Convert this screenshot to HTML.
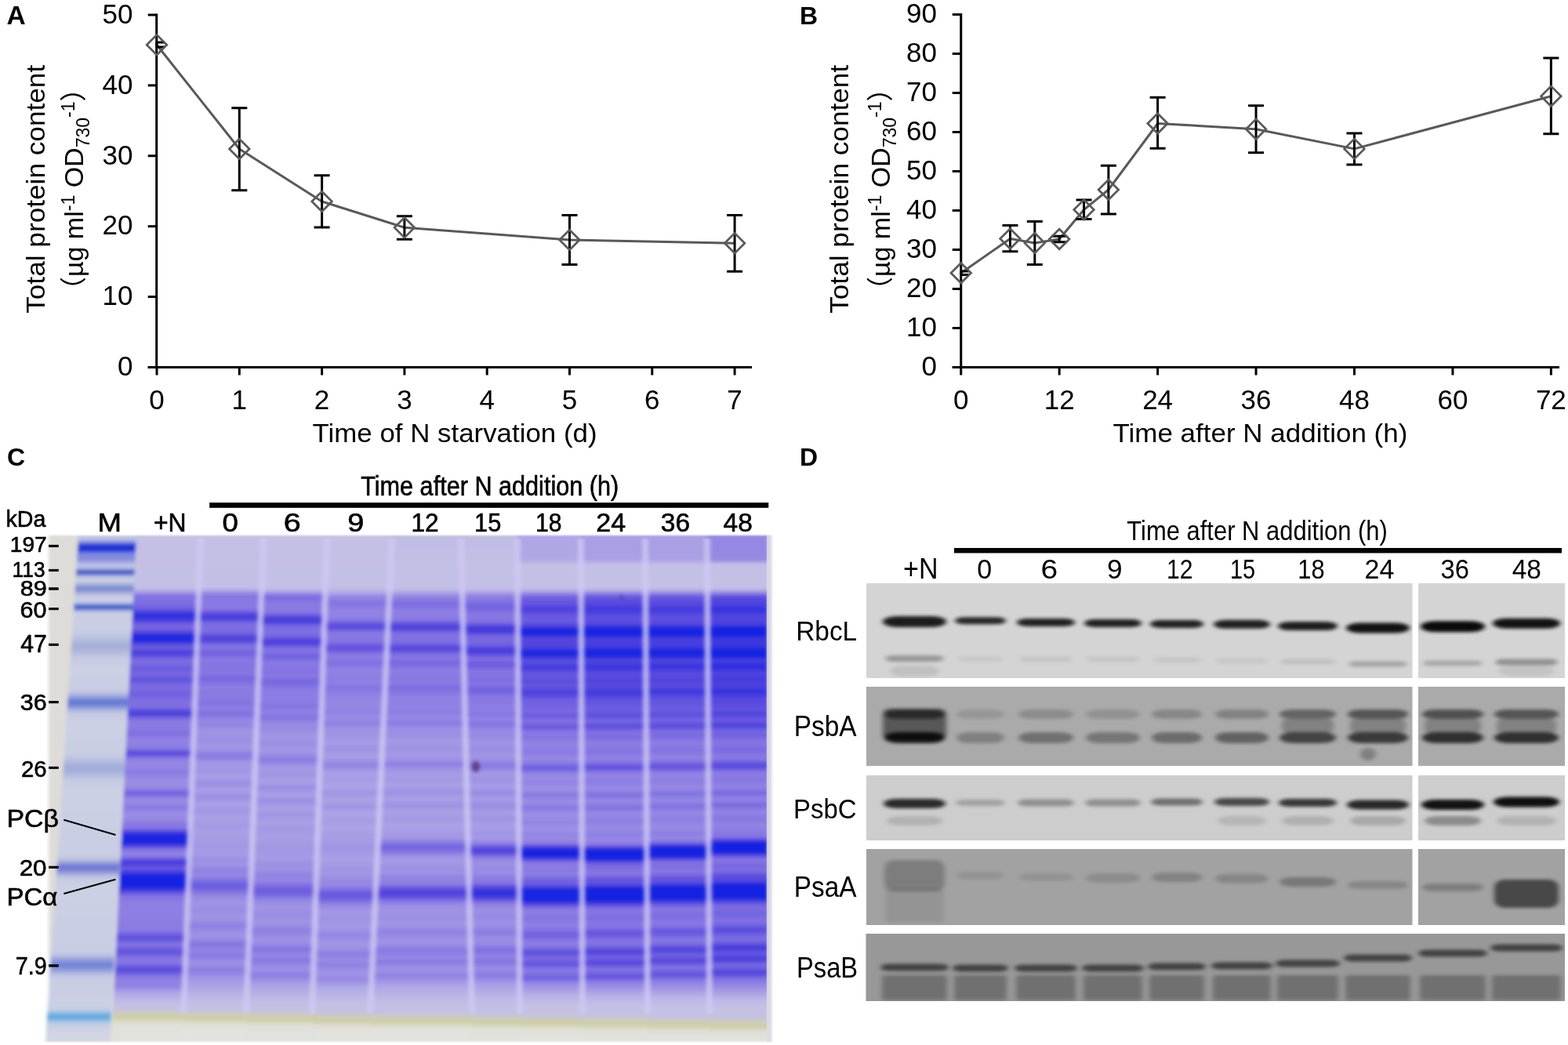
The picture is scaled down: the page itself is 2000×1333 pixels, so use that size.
<!DOCTYPE html>
<html><head><meta charset="utf-8"><title>Figure</title>
<style>html,body{margin:0;padding:0;background:#fff;overflow:hidden;}svg{display:block;}</style>
</head><body>
<svg width="2000" height="1333" viewBox="0 0 2000 1333" font-family="'Liberation Sans', Arial, 'Noto Sans CJK SC', sans-serif" fill="#000">
<rect width="2000" height="1333" fill="#fff"/>
<defs><filter id="gblur" x="-2%" y="-2%" width="104%" height="104%"><feGaussianBlur stdDeviation="2.0 1.3"/></filter><filter id="sblur" x="-50%" y="-5%" width="200%" height="110%"><feGaussianBlur stdDeviation="2.2 1"/></filter><filter id="dblur" x="-50%" y="-50%" width="200%" height="200%"><feGaussianBlur stdDeviation="2"/></filter><linearGradient id="lg0" gradientUnits="userSpaceOnUse" x1="0" y1="683" x2="0" y2="1329"><stop offset="0.0000" stop-color="#c4c1e5"/><stop offset="0.1022" stop-color="#c3c0e5"/><stop offset="0.1084" stop-color="#b4aee6"/><stop offset="0.1176" stop-color="#8c7de3"/><stop offset="0.1207" stop-color="#8373e2"/><stop offset="0.1393" stop-color="#796ae1"/><stop offset="0.1455" stop-color="#695ae0"/><stop offset="0.1548" stop-color="#3b37df"/><stop offset="0.1579" stop-color="#3232e0"/><stop offset="0.1610" stop-color="#3232e0"/><stop offset="0.1672" stop-color="#4a40de"/><stop offset="0.1734" stop-color="#695ae0"/><stop offset="0.1796" stop-color="#7767e1"/><stop offset="0.1858" stop-color="#6f60e0"/><stop offset="0.1920" stop-color="#5043de"/><stop offset="0.1981" stop-color="#282ce0"/><stop offset="0.2012" stop-color="#2229e1"/><stop offset="0.2043" stop-color="#2229e1"/><stop offset="0.2074" stop-color="#282ce0"/><stop offset="0.2167" stop-color="#6052df"/><stop offset="0.2198" stop-color="#695be0"/><stop offset="0.2229" stop-color="#6859e0"/><stop offset="0.2291" stop-color="#5345de"/><stop offset="0.2322" stop-color="#4e43de"/><stop offset="0.2353" stop-color="#5446de"/><stop offset="0.2446" stop-color="#7868e1"/><stop offset="0.2508" stop-color="#7c6de1"/><stop offset="0.2632" stop-color="#6b5ce0"/><stop offset="0.2724" stop-color="#7868e1"/><stop offset="0.2786" stop-color="#6f60e0"/><stop offset="0.2848" stop-color="#6153df"/><stop offset="0.2910" stop-color="#6f60e0"/><stop offset="0.2972" stop-color="#7c6ce1"/><stop offset="0.3065" stop-color="#7667e1"/><stop offset="0.3127" stop-color="#6f60e0"/><stop offset="0.3282" stop-color="#8070e2"/><stop offset="0.3375" stop-color="#7e6ee1"/><stop offset="0.3406" stop-color="#7767e1"/><stop offset="0.3467" stop-color="#5a4cde"/><stop offset="0.3498" stop-color="#4f43de"/><stop offset="0.3529" stop-color="#5044de"/><stop offset="0.3560" stop-color="#5d4fdf"/><stop offset="0.3622" stop-color="#7e6ee2"/><stop offset="0.3684" stop-color="#897ae2"/><stop offset="0.3808" stop-color="#8a7be2"/><stop offset="0.3901" stop-color="#7f6fe2"/><stop offset="0.4025" stop-color="#8f80e3"/><stop offset="0.4149" stop-color="#8f81e3"/><stop offset="0.4211" stop-color="#8474e2"/><stop offset="0.4272" stop-color="#6556df"/><stop offset="0.4303" stop-color="#5e50df"/><stop offset="0.4334" stop-color="#6657df"/><stop offset="0.4396" stop-color="#8677e2"/><stop offset="0.4458" stop-color="#9385e3"/><stop offset="0.4582" stop-color="#9386e3"/><stop offset="0.4675" stop-color="#8a7be2"/><stop offset="0.4830" stop-color="#9a8de4"/><stop offset="0.4954" stop-color="#988be3"/><stop offset="0.5015" stop-color="#8b7ce3"/><stop offset="0.5077" stop-color="#7566e1"/><stop offset="0.5108" stop-color="#7566e1"/><stop offset="0.5201" stop-color="#9486e3"/><stop offset="0.5263" stop-color="#988be3"/><stop offset="0.5356" stop-color="#8b7ce3"/><stop offset="0.5418" stop-color="#9081e3"/><stop offset="0.5511" stop-color="#9b8ee4"/><stop offset="0.5604" stop-color="#9688e3"/><stop offset="0.5697" stop-color="#897ae2"/><stop offset="0.5759" stop-color="#8676e2"/><stop offset="0.5789" stop-color="#7d6de1"/><stop offset="0.5851" stop-color="#5446de"/><stop offset="0.5913" stop-color="#272be0"/><stop offset="0.5975" stop-color="#1825e2"/><stop offset="0.6037" stop-color="#1d27e1"/><stop offset="0.6068" stop-color="#262be0"/><stop offset="0.6130" stop-color="#5245de"/><stop offset="0.6192" stop-color="#7c6ce1"/><stop offset="0.6223" stop-color="#8878e2"/><stop offset="0.6285" stop-color="#8f81e3"/><stop offset="0.6316" stop-color="#8d7ee3"/><stop offset="0.6347" stop-color="#8474e2"/><stop offset="0.6409" stop-color="#5c4edf"/><stop offset="0.6440" stop-color="#4d42de"/><stop offset="0.6471" stop-color="#4a40de"/><stop offset="0.6563" stop-color="#6355df"/><stop offset="0.6594" stop-color="#6052df"/><stop offset="0.6656" stop-color="#423bdf"/><stop offset="0.6687" stop-color="#2c2ee0"/><stop offset="0.6749" stop-color="#1624e2"/><stop offset="0.6904" stop-color="#1624e2"/><stop offset="0.6966" stop-color="#2a2de0"/><stop offset="0.7028" stop-color="#5446de"/><stop offset="0.7090" stop-color="#7666e1"/><stop offset="0.7152" stop-color="#8777e2"/><stop offset="0.7307" stop-color="#8e80e3"/><stop offset="0.7771" stop-color="#8b7be2"/><stop offset="0.7833" stop-color="#8171e2"/><stop offset="0.7926" stop-color="#6051df"/><stop offset="0.7957" stop-color="#6051df"/><stop offset="0.8050" stop-color="#7e6ee1"/><stop offset="0.8080" stop-color="#8272e2"/><stop offset="0.8142" stop-color="#7667e1"/><stop offset="0.8204" stop-color="#6456df"/><stop offset="0.8235" stop-color="#6455df"/><stop offset="0.8359" stop-color="#8676e2"/><stop offset="0.8421" stop-color="#8777e2"/><stop offset="0.8483" stop-color="#7969e1"/><stop offset="0.8545" stop-color="#6152df"/><stop offset="0.8576" stop-color="#5c4edf"/><stop offset="0.8607" stop-color="#6052df"/><stop offset="0.8700" stop-color="#8474e2"/><stop offset="0.8793" stop-color="#9082e3"/><stop offset="0.8885" stop-color="#8f81e3"/><stop offset="0.8947" stop-color="#9a8ee4"/><stop offset="0.9040" stop-color="#b0a8e5"/><stop offset="0.9226" stop-color="#c1bee5"/><stop offset="0.9350" stop-color="#c5c2df"/><stop offset="0.9412" stop-color="#cbc9cb"/><stop offset="0.9474" stop-color="#ceceac"/><stop offset="0.9505" stop-color="#cecea6"/><stop offset="0.9536" stop-color="#d0d0ab"/><stop offset="0.9628" stop-color="#deded2"/><stop offset="0.9690" stop-color="#e1e1dc"/><stop offset="1.0000" stop-color="#e2e2de"/></linearGradient><linearGradient id="lg1" gradientUnits="userSpaceOnUse" x1="0" y1="683" x2="0" y2="1329"><stop offset="0.0000" stop-color="#c4c1e5"/><stop offset="0.1022" stop-color="#c2bee5"/><stop offset="0.1084" stop-color="#b1a9e6"/><stop offset="0.1146" stop-color="#9587e3"/><stop offset="0.1207" stop-color="#8777e2"/><stop offset="0.1393" stop-color="#8a7be2"/><stop offset="0.1455" stop-color="#8474e2"/><stop offset="0.1517" stop-color="#6b5ce0"/><stop offset="0.1548" stop-color="#5a4cdf"/><stop offset="0.1579" stop-color="#4d42de"/><stop offset="0.1610" stop-color="#483fdf"/><stop offset="0.1641" stop-color="#4d42de"/><stop offset="0.1734" stop-color="#7768e1"/><stop offset="0.1796" stop-color="#7e6ee2"/><stop offset="0.1889" stop-color="#7c6ce1"/><stop offset="0.1950" stop-color="#6b5ce0"/><stop offset="0.2012" stop-color="#5245de"/><stop offset="0.2043" stop-color="#4f43de"/><stop offset="0.2074" stop-color="#5547de"/><stop offset="0.2167" stop-color="#7d6de1"/><stop offset="0.2198" stop-color="#8373e2"/><stop offset="0.2260" stop-color="#7c6ce1"/><stop offset="0.2322" stop-color="#7162e0"/><stop offset="0.2384" stop-color="#7c6ce1"/><stop offset="0.2446" stop-color="#8878e2"/><stop offset="0.2539" stop-color="#8676e2"/><stop offset="0.2632" stop-color="#8475e2"/><stop offset="0.2724" stop-color="#8777e2"/><stop offset="0.2817" stop-color="#7768e1"/><stop offset="0.2879" stop-color="#7d6de1"/><stop offset="0.2972" stop-color="#8a7be2"/><stop offset="0.3220" stop-color="#897ae2"/><stop offset="0.3313" stop-color="#8272e2"/><stop offset="0.3406" stop-color="#8c7ee3"/><stop offset="0.3529" stop-color="#8171e2"/><stop offset="0.3653" stop-color="#9587e3"/><stop offset="0.3746" stop-color="#9486e3"/><stop offset="0.3870" stop-color="#a094e4"/><stop offset="0.4056" stop-color="#9c90e4"/><stop offset="0.4180" stop-color="#a297e4"/><stop offset="0.4272" stop-color="#9689e3"/><stop offset="0.4334" stop-color="#8b7ce2"/><stop offset="0.4396" stop-color="#8f81e3"/><stop offset="0.4489" stop-color="#a297e4"/><stop offset="0.4582" stop-color="#a297e4"/><stop offset="0.4675" stop-color="#a196e4"/><stop offset="0.4768" stop-color="#a89ee5"/><stop offset="0.4892" stop-color="#9b8fe4"/><stop offset="0.4954" stop-color="#a094e4"/><stop offset="0.5015" stop-color="#a89ee5"/><stop offset="0.5077" stop-color="#a59be4"/><stop offset="0.5139" stop-color="#9c8fe4"/><stop offset="0.5201" stop-color="#9f92e4"/><stop offset="0.5294" stop-color="#a9a0e5"/><stop offset="0.5449" stop-color="#a297e4"/><stop offset="0.5573" stop-color="#aaa0e5"/><stop offset="0.5728" stop-color="#a499e4"/><stop offset="0.5882" stop-color="#a9a0e5"/><stop offset="0.6130" stop-color="#a398e4"/><stop offset="0.6285" stop-color="#a69be5"/><stop offset="0.6409" stop-color="#9c90e4"/><stop offset="0.6502" stop-color="#9f93e4"/><stop offset="0.6594" stop-color="#9284e3"/><stop offset="0.6718" stop-color="#9486e3"/><stop offset="0.6811" stop-color="#8171e2"/><stop offset="0.6904" stop-color="#6c5de0"/><stop offset="0.6966" stop-color="#7061e0"/><stop offset="0.7121" stop-color="#9588e3"/><stop offset="0.7245" stop-color="#a094e4"/><stop offset="0.7399" stop-color="#9a8de4"/><stop offset="0.7523" stop-color="#a095e4"/><stop offset="0.7616" stop-color="#9a8de4"/><stop offset="0.7709" stop-color="#8e80e3"/><stop offset="0.7864" stop-color="#9e92e4"/><stop offset="0.7957" stop-color="#9a8de4"/><stop offset="0.8050" stop-color="#8778e2"/><stop offset="0.8111" stop-color="#8878e2"/><stop offset="0.8173" stop-color="#9284e3"/><stop offset="0.8235" stop-color="#9081e3"/><stop offset="0.8297" stop-color="#8878e2"/><stop offset="0.8421" stop-color="#9b8ee4"/><stop offset="0.8483" stop-color="#9a8de4"/><stop offset="0.8576" stop-color="#8d7ee3"/><stop offset="0.8638" stop-color="#9284e3"/><stop offset="0.8762" stop-color="#a297e4"/><stop offset="0.9195" stop-color="#c1bde5"/><stop offset="0.9350" stop-color="#c4c1e2"/><stop offset="0.9412" stop-color="#c8c6d3"/><stop offset="0.9505" stop-color="#cecea9"/><stop offset="0.9536" stop-color="#cecea7"/><stop offset="0.9598" stop-color="#d7d7be"/><stop offset="0.9659" stop-color="#dfdfd6"/><stop offset="0.9752" stop-color="#e2e2de"/><stop offset="1.0000" stop-color="#e2e2de"/></linearGradient><linearGradient id="lg2" gradientUnits="userSpaceOnUse" x1="0" y1="683" x2="0" y2="1329"><stop offset="0.0000" stop-color="#c4c1e5"/><stop offset="0.1022" stop-color="#c3c0e5"/><stop offset="0.1084" stop-color="#b8b2e6"/><stop offset="0.1176" stop-color="#8c7de3"/><stop offset="0.1207" stop-color="#8070e2"/><stop offset="0.1238" stop-color="#7c6de1"/><stop offset="0.1362" stop-color="#8a7be2"/><stop offset="0.1486" stop-color="#8879e2"/><stop offset="0.1517" stop-color="#8474e2"/><stop offset="0.1579" stop-color="#6b5ce0"/><stop offset="0.1610" stop-color="#5a4cdf"/><stop offset="0.1641" stop-color="#4d42de"/><stop offset="0.1672" stop-color="#483fdf"/><stop offset="0.1703" stop-color="#4d42de"/><stop offset="0.1796" stop-color="#7768e1"/><stop offset="0.1858" stop-color="#7e6fe2"/><stop offset="0.1950" stop-color="#7c6de1"/><stop offset="0.2012" stop-color="#6c5de0"/><stop offset="0.2074" stop-color="#5345de"/><stop offset="0.2105" stop-color="#4f43de"/><stop offset="0.2136" stop-color="#5546de"/><stop offset="0.2229" stop-color="#7c6de1"/><stop offset="0.2260" stop-color="#8273e2"/><stop offset="0.2322" stop-color="#7d6de1"/><stop offset="0.2384" stop-color="#7162e0"/><stop offset="0.2446" stop-color="#7b6be1"/><stop offset="0.2508" stop-color="#8878e2"/><stop offset="0.2601" stop-color="#8677e2"/><stop offset="0.2693" stop-color="#8474e2"/><stop offset="0.2786" stop-color="#8778e2"/><stop offset="0.2879" stop-color="#7868e1"/><stop offset="0.2941" stop-color="#7b6ce1"/><stop offset="0.3034" stop-color="#897ae2"/><stop offset="0.3282" stop-color="#8b7de3"/><stop offset="0.3375" stop-color="#8474e2"/><stop offset="0.3467" stop-color="#8f80e3"/><stop offset="0.3529" stop-color="#8b7ce3"/><stop offset="0.3591" stop-color="#8474e2"/><stop offset="0.3653" stop-color="#8c7de3"/><stop offset="0.3715" stop-color="#978ae3"/><stop offset="0.3839" stop-color="#988be3"/><stop offset="0.3963" stop-color="#a296e4"/><stop offset="0.4118" stop-color="#9c8fe4"/><stop offset="0.4241" stop-color="#a398e4"/><stop offset="0.4334" stop-color="#9a8de4"/><stop offset="0.4427" stop-color="#8b7ce2"/><stop offset="0.4489" stop-color="#9486e3"/><stop offset="0.4582" stop-color="#a499e4"/><stop offset="0.4737" stop-color="#a195e4"/><stop offset="0.4861" stop-color="#a99fe5"/><stop offset="0.4985" stop-color="#9b8ee4"/><stop offset="0.5108" stop-color="#a89fe5"/><stop offset="0.5170" stop-color="#a499e4"/><stop offset="0.5232" stop-color="#9b8fe4"/><stop offset="0.5294" stop-color="#a094e4"/><stop offset="0.5387" stop-color="#a9a0e5"/><stop offset="0.5511" stop-color="#a296e4"/><stop offset="0.5666" stop-color="#aaa0e5"/><stop offset="0.5789" stop-color="#a398e4"/><stop offset="0.5944" stop-color="#a99fe5"/><stop offset="0.6161" stop-color="#a297e4"/><stop offset="0.6378" stop-color="#a59ae4"/><stop offset="0.6502" stop-color="#9b8fe4"/><stop offset="0.6594" stop-color="#9e92e4"/><stop offset="0.6687" stop-color="#9284e3"/><stop offset="0.6811" stop-color="#9486e3"/><stop offset="0.6904" stop-color="#8171e2"/><stop offset="0.6997" stop-color="#6c5de0"/><stop offset="0.7059" stop-color="#6f60e0"/><stop offset="0.7214" stop-color="#9588e3"/><stop offset="0.7337" stop-color="#a094e4"/><stop offset="0.7492" stop-color="#998ce4"/><stop offset="0.7616" stop-color="#a094e4"/><stop offset="0.7709" stop-color="#9a8de4"/><stop offset="0.7802" stop-color="#8e80e3"/><stop offset="0.7988" stop-color="#9f92e4"/><stop offset="0.8080" stop-color="#9588e3"/><stop offset="0.8173" stop-color="#8575e2"/><stop offset="0.8297" stop-color="#9386e3"/><stop offset="0.8390" stop-color="#8878e2"/><stop offset="0.8452" stop-color="#8f80e3"/><stop offset="0.8514" stop-color="#9a8de4"/><stop offset="0.8576" stop-color="#9b8ee4"/><stop offset="0.8669" stop-color="#8e7fe3"/><stop offset="0.8731" stop-color="#9385e3"/><stop offset="0.8854" stop-color="#a89fe5"/><stop offset="0.9195" stop-color="#c1bde5"/><stop offset="0.9381" stop-color="#c4c2e0"/><stop offset="0.9443" stop-color="#cac8ce"/><stop offset="0.9505" stop-color="#ceceaf"/><stop offset="0.9536" stop-color="#cecda7"/><stop offset="0.9567" stop-color="#cfcfa9"/><stop offset="0.9659" stop-color="#ddddd0"/><stop offset="0.9721" stop-color="#e1e1dc"/><stop offset="1.0000" stop-color="#e2e2de"/></linearGradient><linearGradient id="lg3" gradientUnits="userSpaceOnUse" x1="0" y1="683" x2="0" y2="1329"><stop offset="0.0000" stop-color="#c4c1e5"/><stop offset="0.1022" stop-color="#c3c0e5"/><stop offset="0.1115" stop-color="#b3ade6"/><stop offset="0.1207" stop-color="#9688e3"/><stop offset="0.1331" stop-color="#8474e2"/><stop offset="0.1486" stop-color="#9183e3"/><stop offset="0.1610" stop-color="#9081e3"/><stop offset="0.1672" stop-color="#8676e2"/><stop offset="0.1765" stop-color="#5f51df"/><stop offset="0.1796" stop-color="#5a4cdf"/><stop offset="0.1827" stop-color="#5f51df"/><stop offset="0.1920" stop-color="#8474e2"/><stop offset="0.1981" stop-color="#8879e2"/><stop offset="0.2105" stop-color="#8373e2"/><stop offset="0.2198" stop-color="#6455df"/><stop offset="0.2229" stop-color="#6153df"/><stop offset="0.2291" stop-color="#7263e1"/><stop offset="0.2353" stop-color="#8878e2"/><stop offset="0.2415" stop-color="#8b7be2"/><stop offset="0.2508" stop-color="#7f6fe2"/><stop offset="0.2663" stop-color="#9082e3"/><stop offset="0.2817" stop-color="#8c7ee3"/><stop offset="0.2910" stop-color="#8e80e3"/><stop offset="0.3003" stop-color="#8474e2"/><stop offset="0.3220" stop-color="#9386e3"/><stop offset="0.3406" stop-color="#9587e3"/><stop offset="0.3498" stop-color="#9082e3"/><stop offset="0.3591" stop-color="#998ce4"/><stop offset="0.3715" stop-color="#9081e3"/><stop offset="0.3839" stop-color="#9f93e4"/><stop offset="0.3963" stop-color="#a094e4"/><stop offset="0.4087" stop-color="#a69ce5"/><stop offset="0.4211" stop-color="#a094e4"/><stop offset="0.4365" stop-color="#a89ee5"/><stop offset="0.4458" stop-color="#9d91e4"/><stop offset="0.4520" stop-color="#9486e3"/><stop offset="0.4582" stop-color="#988ae3"/><stop offset="0.4675" stop-color="#a89ee5"/><stop offset="0.4768" stop-color="#a89ee5"/><stop offset="0.4861" stop-color="#a79de5"/><stop offset="0.4954" stop-color="#ada4e5"/><stop offset="0.5077" stop-color="#a195e4"/><stop offset="0.5139" stop-color="#a499e4"/><stop offset="0.5232" stop-color="#aca3e5"/><stop offset="0.5356" stop-color="#a094e4"/><stop offset="0.5480" stop-color="#ada4e5"/><stop offset="0.5635" stop-color="#a69ce5"/><stop offset="0.5759" stop-color="#ada4e5"/><stop offset="0.5913" stop-color="#a79de5"/><stop offset="0.6037" stop-color="#a69ce5"/><stop offset="0.6161" stop-color="#a095e4"/><stop offset="0.6409" stop-color="#a9a0e5"/><stop offset="0.6533" stop-color="#a398e4"/><stop offset="0.6625" stop-color="#a195e4"/><stop offset="0.6687" stop-color="#a297e4"/><stop offset="0.6811" stop-color="#9789e3"/><stop offset="0.6904" stop-color="#9588e3"/><stop offset="0.6997" stop-color="#7f6fe2"/><stop offset="0.7059" stop-color="#6c5de0"/><stop offset="0.7121" stop-color="#6758e0"/><stop offset="0.7183" stop-color="#7464e1"/><stop offset="0.7307" stop-color="#9789e3"/><stop offset="0.7430" stop-color="#a398e4"/><stop offset="0.7585" stop-color="#9e92e4"/><stop offset="0.7709" stop-color="#a499e4"/><stop offset="0.7833" stop-color="#9a8de4"/><stop offset="0.7895" stop-color="#9487e3"/><stop offset="0.8080" stop-color="#a397e4"/><stop offset="0.8173" stop-color="#9a8de4"/><stop offset="0.8266" stop-color="#8d7ee3"/><stop offset="0.8390" stop-color="#998ce3"/><stop offset="0.8483" stop-color="#8f80e3"/><stop offset="0.8607" stop-color="#9f93e4"/><stop offset="0.8700" stop-color="#9c8fe4"/><stop offset="0.8762" stop-color="#9789e3"/><stop offset="0.8824" stop-color="#9f93e4"/><stop offset="0.8916" stop-color="#afa8e5"/><stop offset="0.9226" stop-color="#c2bfe5"/><stop offset="0.9381" stop-color="#c4c1e2"/><stop offset="0.9443" stop-color="#c7c5d6"/><stop offset="0.9536" stop-color="#ceceaa"/><stop offset="0.9567" stop-color="#cecea6"/><stop offset="0.9598" stop-color="#d0d0ad"/><stop offset="0.9690" stop-color="#deded4"/><stop offset="0.9783" stop-color="#e2e2de"/><stop offset="1.0000" stop-color="#e2e2de"/></linearGradient><linearGradient id="lg4" gradientUnits="userSpaceOnUse" x1="0" y1="683" x2="0" y2="1329"><stop offset="0.0000" stop-color="#c0bce5"/><stop offset="0.0557" stop-color="#c3c0e5"/><stop offset="0.1022" stop-color="#c3c0e5"/><stop offset="0.1084" stop-color="#bab5e6"/><stop offset="0.1207" stop-color="#9385e3"/><stop offset="0.1331" stop-color="#7e6ee1"/><stop offset="0.1393" stop-color="#8070e2"/><stop offset="0.1486" stop-color="#8c7de3"/><stop offset="0.1610" stop-color="#8c7de3"/><stop offset="0.1672" stop-color="#8474e2"/><stop offset="0.1765" stop-color="#5b4cdf"/><stop offset="0.1796" stop-color="#5144de"/><stop offset="0.1827" stop-color="#5144de"/><stop offset="0.1858" stop-color="#5a4cdf"/><stop offset="0.1920" stop-color="#7768e1"/><stop offset="0.1950" stop-color="#8070e2"/><stop offset="0.2074" stop-color="#8171e2"/><stop offset="0.2136" stop-color="#7566e1"/><stop offset="0.2198" stop-color="#5d4fdf"/><stop offset="0.2229" stop-color="#5749de"/><stop offset="0.2260" stop-color="#5a4cdf"/><stop offset="0.2353" stop-color="#7f6fe2"/><stop offset="0.2415" stop-color="#8676e2"/><stop offset="0.2508" stop-color="#7768e1"/><stop offset="0.2570" stop-color="#7f6fe2"/><stop offset="0.2663" stop-color="#8c7de3"/><stop offset="0.2817" stop-color="#8778e2"/><stop offset="0.2910" stop-color="#8a7be2"/><stop offset="0.3003" stop-color="#7d6de1"/><stop offset="0.3065" stop-color="#8272e2"/><stop offset="0.3189" stop-color="#8f80e3"/><stop offset="0.3406" stop-color="#9082e3"/><stop offset="0.3498" stop-color="#8c7de3"/><stop offset="0.3591" stop-color="#9588e3"/><stop offset="0.3715" stop-color="#8b7ce3"/><stop offset="0.3808" stop-color="#9a8ee4"/><stop offset="0.3932" stop-color="#9b8ee4"/><stop offset="0.4056" stop-color="#a499e4"/><stop offset="0.4211" stop-color="#9e91e4"/><stop offset="0.4334" stop-color="#a59be4"/><stop offset="0.4427" stop-color="#9d90e4"/><stop offset="0.4520" stop-color="#8f80e3"/><stop offset="0.4613" stop-color="#9e92e4"/><stop offset="0.4706" stop-color="#a79de5"/><stop offset="0.4830" stop-color="#a498e4"/><stop offset="0.4923" stop-color="#aaa1e5"/><stop offset="0.5015" stop-color="#a397e4"/><stop offset="0.5077" stop-color="#9d91e4"/><stop offset="0.5201" stop-color="#a9a0e5"/><stop offset="0.5325" stop-color="#9d91e4"/><stop offset="0.5449" stop-color="#aaa1e5"/><stop offset="0.5604" stop-color="#a499e4"/><stop offset="0.5728" stop-color="#aba2e5"/><stop offset="0.5882" stop-color="#a59ae4"/><stop offset="0.5975" stop-color="#a296e4"/><stop offset="0.6130" stop-color="#7868e1"/><stop offset="0.6161" stop-color="#7465e1"/><stop offset="0.6223" stop-color="#7f6fe2"/><stop offset="0.6347" stop-color="#9f93e4"/><stop offset="0.6440" stop-color="#a59ae4"/><stop offset="0.6563" stop-color="#9d91e4"/><stop offset="0.6656" stop-color="#9e92e4"/><stop offset="0.6749" stop-color="#9285e3"/><stop offset="0.6842" stop-color="#9183e3"/><stop offset="0.6904" stop-color="#8474e2"/><stop offset="0.6997" stop-color="#5b4ddf"/><stop offset="0.7059" stop-color="#5044de"/><stop offset="0.7121" stop-color="#5b4ddf"/><stop offset="0.7245" stop-color="#8d7ee3"/><stop offset="0.7337" stop-color="#9d91e4"/><stop offset="0.7430" stop-color="#a093e4"/><stop offset="0.7523" stop-color="#9b8ee4"/><stop offset="0.7678" stop-color="#a195e4"/><stop offset="0.7833" stop-color="#9182e3"/><stop offset="0.8019" stop-color="#a094e4"/><stop offset="0.8111" stop-color="#9689e3"/><stop offset="0.8173" stop-color="#8a7be2"/><stop offset="0.8235" stop-color="#8a7be2"/><stop offset="0.8328" stop-color="#9587e3"/><stop offset="0.8421" stop-color="#8b7be2"/><stop offset="0.8545" stop-color="#9d90e4"/><stop offset="0.8607" stop-color="#9b8ee4"/><stop offset="0.8700" stop-color="#9082e3"/><stop offset="0.8793" stop-color="#9f93e4"/><stop offset="0.8916" stop-color="#afa7e5"/><stop offset="0.9226" stop-color="#c2bfe5"/><stop offset="0.9412" stop-color="#c4c1e2"/><stop offset="0.9474" stop-color="#c9c7d2"/><stop offset="0.9536" stop-color="#cecdb3"/><stop offset="0.9567" stop-color="#cecea8"/><stop offset="0.9598" stop-color="#cecea7"/><stop offset="0.9659" stop-color="#d7d7bf"/><stop offset="0.9721" stop-color="#dfdfd6"/><stop offset="0.9814" stop-color="#e2e2de"/><stop offset="1.0000" stop-color="#e2e2de"/></linearGradient><linearGradient id="lg5" gradientUnits="userSpaceOnUse" x1="0" y1="683" x2="0" y2="1329"><stop offset="0.0000" stop-color="#c0bce5"/><stop offset="0.0557" stop-color="#c3c0e5"/><stop offset="0.1022" stop-color="#c3c0e5"/><stop offset="0.1084" stop-color="#b9b4e6"/><stop offset="0.1207" stop-color="#8e80e3"/><stop offset="0.1331" stop-color="#7e6ee1"/><stop offset="0.1393" stop-color="#7263e1"/><stop offset="0.1455" stop-color="#7868e1"/><stop offset="0.1548" stop-color="#8677e2"/><stop offset="0.1672" stop-color="#8575e2"/><stop offset="0.1734" stop-color="#7565e1"/><stop offset="0.1796" stop-color="#5446de"/><stop offset="0.1827" stop-color="#473edf"/><stop offset="0.1858" stop-color="#423bdf"/><stop offset="0.1889" stop-color="#473edf"/><stop offset="0.1920" stop-color="#5446de"/><stop offset="0.1981" stop-color="#7262e0"/><stop offset="0.2043" stop-color="#7869e1"/><stop offset="0.2136" stop-color="#7566e1"/><stop offset="0.2198" stop-color="#6153df"/><stop offset="0.2229" stop-color="#5346de"/><stop offset="0.2260" stop-color="#4b40de"/><stop offset="0.2291" stop-color="#4a40de"/><stop offset="0.2322" stop-color="#5345de"/><stop offset="0.2415" stop-color="#7a6ae1"/><stop offset="0.2446" stop-color="#7d6de1"/><stop offset="0.2539" stop-color="#6d5ee0"/><stop offset="0.2570" stop-color="#6c5de0"/><stop offset="0.2663" stop-color="#8272e2"/><stop offset="0.2755" stop-color="#8373e2"/><stop offset="0.2848" stop-color="#7f6fe2"/><stop offset="0.2941" stop-color="#8373e2"/><stop offset="0.3034" stop-color="#7363e1"/><stop offset="0.3096" stop-color="#7767e1"/><stop offset="0.3189" stop-color="#8778e2"/><stop offset="0.3437" stop-color="#8c7de3"/><stop offset="0.3529" stop-color="#8777e2"/><stop offset="0.3622" stop-color="#9183e3"/><stop offset="0.3715" stop-color="#8676e2"/><stop offset="0.3777" stop-color="#8b7ce2"/><stop offset="0.3839" stop-color="#9689e3"/><stop offset="0.3963" stop-color="#9689e3"/><stop offset="0.4087" stop-color="#a094e4"/><stop offset="0.4241" stop-color="#9a8de4"/><stop offset="0.4365" stop-color="#a196e4"/><stop offset="0.4458" stop-color="#9789e3"/><stop offset="0.4520" stop-color="#8a7be2"/><stop offset="0.4582" stop-color="#8d7fe3"/><stop offset="0.4675" stop-color="#a195e4"/><stop offset="0.4737" stop-color="#a398e4"/><stop offset="0.4830" stop-color="#9f93e4"/><stop offset="0.4954" stop-color="#a79de5"/><stop offset="0.5077" stop-color="#998ce3"/><stop offset="0.5139" stop-color="#9e92e4"/><stop offset="0.5201" stop-color="#a69be5"/><stop offset="0.5263" stop-color="#a296e4"/><stop offset="0.5325" stop-color="#998ce3"/><stop offset="0.5387" stop-color="#9e92e4"/><stop offset="0.5480" stop-color="#a79de5"/><stop offset="0.5604" stop-color="#9f93e4"/><stop offset="0.5728" stop-color="#a89ee5"/><stop offset="0.5882" stop-color="#a196e4"/><stop offset="0.5975" stop-color="#a499e4"/><stop offset="0.6037" stop-color="#9b8ee4"/><stop offset="0.6099" stop-color="#8676e2"/><stop offset="0.6161" stop-color="#6455df"/><stop offset="0.6192" stop-color="#5749de"/><stop offset="0.6223" stop-color="#5245de"/><stop offset="0.6254" stop-color="#5648de"/><stop offset="0.6316" stop-color="#7263e1"/><stop offset="0.6347" stop-color="#8474e2"/><stop offset="0.6409" stop-color="#9789e3"/><stop offset="0.6471" stop-color="#9c8fe4"/><stop offset="0.6563" stop-color="#988be3"/><stop offset="0.6656" stop-color="#9a8de4"/><stop offset="0.6780" stop-color="#8b7ce2"/><stop offset="0.6842" stop-color="#8878e2"/><stop offset="0.6873" stop-color="#8070e2"/><stop offset="0.6966" stop-color="#4e42de"/><stop offset="0.7028" stop-color="#3534df"/><stop offset="0.7059" stop-color="#3131e0"/><stop offset="0.7090" stop-color="#3433df"/><stop offset="0.7152" stop-color="#4d42de"/><stop offset="0.7245" stop-color="#8171e2"/><stop offset="0.7307" stop-color="#9385e3"/><stop offset="0.7399" stop-color="#9c8fe4"/><stop offset="0.7523" stop-color="#9689e3"/><stop offset="0.7647" stop-color="#9d91e4"/><stop offset="0.7740" stop-color="#9689e3"/><stop offset="0.7833" stop-color="#8b7ce2"/><stop offset="0.7988" stop-color="#9b8ee4"/><stop offset="0.8080" stop-color="#9588e3"/><stop offset="0.8173" stop-color="#8272e2"/><stop offset="0.8235" stop-color="#8676e2"/><stop offset="0.8297" stop-color="#8f81e3"/><stop offset="0.8421" stop-color="#8575e2"/><stop offset="0.8545" stop-color="#998be3"/><stop offset="0.8638" stop-color="#8e80e3"/><stop offset="0.8700" stop-color="#8b7ce2"/><stop offset="0.8854" stop-color="#a69ce5"/><stop offset="0.9164" stop-color="#bfbbe5"/><stop offset="0.9443" stop-color="#c4c2e0"/><stop offset="0.9505" stop-color="#cac8cd"/><stop offset="0.9567" stop-color="#ceceae"/><stop offset="0.9598" stop-color="#cecda7"/><stop offset="0.9628" stop-color="#cfcfaa"/><stop offset="0.9721" stop-color="#ddddd1"/><stop offset="0.9783" stop-color="#e1e1dc"/><stop offset="1.0000" stop-color="#e2e2de"/></linearGradient><linearGradient id="lg6" gradientUnits="userSpaceOnUse" x1="0" y1="683" x2="0" y2="1329"><stop offset="0.0000" stop-color="#afa7e5"/><stop offset="0.0464" stop-color="#afa8e5"/><stop offset="0.0588" stop-color="#c3c0e5"/><stop offset="0.1022" stop-color="#c3c0e5"/><stop offset="0.1084" stop-color="#b5afe6"/><stop offset="0.1207" stop-color="#7768e1"/><stop offset="0.1269" stop-color="#6b5ce0"/><stop offset="0.1362" stop-color="#6152df"/><stop offset="0.1424" stop-color="#5043de"/><stop offset="0.1455" stop-color="#4d42de"/><stop offset="0.1517" stop-color="#594ade"/><stop offset="0.1579" stop-color="#6758e0"/><stop offset="0.1672" stop-color="#6a5be0"/><stop offset="0.1734" stop-color="#6254df"/><stop offset="0.1796" stop-color="#483fdf"/><stop offset="0.1858" stop-color="#242ae0"/><stop offset="0.1889" stop-color="#1d27e1"/><stop offset="0.1920" stop-color="#1d27e1"/><stop offset="0.1950" stop-color="#242ae0"/><stop offset="0.2012" stop-color="#463edf"/><stop offset="0.2043" stop-color="#5245de"/><stop offset="0.2105" stop-color="#5446de"/><stop offset="0.2198" stop-color="#4e42de"/><stop offset="0.2291" stop-color="#252ae0"/><stop offset="0.2322" stop-color="#2129e1"/><stop offset="0.2353" stop-color="#242ae0"/><stop offset="0.2384" stop-color="#3030e0"/><stop offset="0.2446" stop-color="#5144de"/><stop offset="0.2477" stop-color="#5a4cdf"/><stop offset="0.2508" stop-color="#5a4cdf"/><stop offset="0.2601" stop-color="#453ddf"/><stop offset="0.2663" stop-color="#5345de"/><stop offset="0.2724" stop-color="#6556df"/><stop offset="0.2786" stop-color="#6557df"/><stop offset="0.2879" stop-color="#5c4edf"/><stop offset="0.2972" stop-color="#6556df"/><stop offset="0.3096" stop-color="#4d42de"/><stop offset="0.3158" stop-color="#594ade"/><stop offset="0.3251" stop-color="#6e5fe0"/><stop offset="0.3467" stop-color="#7768e1"/><stop offset="0.3560" stop-color="#6b5ce0"/><stop offset="0.3653" stop-color="#7e6fe2"/><stop offset="0.3684" stop-color="#7e6ee1"/><stop offset="0.3777" stop-color="#6a5be0"/><stop offset="0.3808" stop-color="#6e5fe0"/><stop offset="0.3870" stop-color="#8474e2"/><stop offset="0.3932" stop-color="#8778e2"/><stop offset="0.3994" stop-color="#8575e2"/><stop offset="0.4118" stop-color="#9284e3"/><stop offset="0.4272" stop-color="#897ae2"/><stop offset="0.4396" stop-color="#9587e3"/><stop offset="0.4458" stop-color="#9183e3"/><stop offset="0.4582" stop-color="#6f60e0"/><stop offset="0.4613" stop-color="#7263e1"/><stop offset="0.4706" stop-color="#9183e3"/><stop offset="0.4768" stop-color="#988be3"/><stop offset="0.4892" stop-color="#9385e3"/><stop offset="0.4985" stop-color="#9c8fe4"/><stop offset="0.5046" stop-color="#988ae3"/><stop offset="0.5108" stop-color="#8b7ce2"/><stop offset="0.5139" stop-color="#897ae2"/><stop offset="0.5232" stop-color="#998ce3"/><stop offset="0.5294" stop-color="#978ae3"/><stop offset="0.5356" stop-color="#8b7ce3"/><stop offset="0.5387" stop-color="#897ae2"/><stop offset="0.5511" stop-color="#9b8fe4"/><stop offset="0.5666" stop-color="#9385e3"/><stop offset="0.5789" stop-color="#9c90e4"/><stop offset="0.5913" stop-color="#9486e3"/><stop offset="0.6006" stop-color="#978ae3"/><stop offset="0.6068" stop-color="#8c7de3"/><stop offset="0.6099" stop-color="#7e6ee1"/><stop offset="0.6161" stop-color="#4940de"/><stop offset="0.6192" stop-color="#2d2fe0"/><stop offset="0.6223" stop-color="#1e28e1"/><stop offset="0.6254" stop-color="#1725e2"/><stop offset="0.6285" stop-color="#1724e2"/><stop offset="0.6316" stop-color="#1e27e1"/><stop offset="0.6347" stop-color="#2a2de0"/><stop offset="0.6409" stop-color="#6052df"/><stop offset="0.6440" stop-color="#7767e1"/><stop offset="0.6471" stop-color="#8676e2"/><stop offset="0.6533" stop-color="#8b7ce2"/><stop offset="0.6625" stop-color="#8979e2"/><stop offset="0.6687" stop-color="#8c7de3"/><stop offset="0.6749" stop-color="#7f6fe2"/><stop offset="0.6811" stop-color="#7162e0"/><stop offset="0.6873" stop-color="#6c5de0"/><stop offset="0.6904" stop-color="#6253df"/><stop offset="0.6997" stop-color="#242ae0"/><stop offset="0.7028" stop-color="#1825e2"/><stop offset="0.7183" stop-color="#1825e2"/><stop offset="0.7214" stop-color="#232ae1"/><stop offset="0.7276" stop-color="#5044de"/><stop offset="0.7337" stop-color="#7667e1"/><stop offset="0.7368" stop-color="#8373e2"/><stop offset="0.7430" stop-color="#8c7de3"/><stop offset="0.7554" stop-color="#8474e2"/><stop offset="0.7709" stop-color="#8e7fe3"/><stop offset="0.7802" stop-color="#8171e2"/><stop offset="0.7864" stop-color="#7262e0"/><stop offset="0.7895" stop-color="#7162e0"/><stop offset="0.8019" stop-color="#8a7be2"/><stop offset="0.8080" stop-color="#8b7ce2"/><stop offset="0.8142" stop-color="#7e6fe2"/><stop offset="0.8204" stop-color="#6557df"/><stop offset="0.8235" stop-color="#5f51df"/><stop offset="0.8266" stop-color="#6354df"/><stop offset="0.8328" stop-color="#7666e1"/><stop offset="0.8359" stop-color="#7969e1"/><stop offset="0.8452" stop-color="#6456df"/><stop offset="0.8483" stop-color="#685ae0"/><stop offset="0.8545" stop-color="#8070e2"/><stop offset="0.8607" stop-color="#8879e2"/><stop offset="0.8669" stop-color="#7d6ee1"/><stop offset="0.8731" stop-color="#7363e1"/><stop offset="0.8762" stop-color="#7869e1"/><stop offset="0.8854" stop-color="#978ae3"/><stop offset="0.9102" stop-color="#b8b3e6"/><stop offset="0.9288" stop-color="#c4c1e5"/><stop offset="0.9443" stop-color="#c4c1e2"/><stop offset="0.9505" stop-color="#c8c6d4"/><stop offset="0.9598" stop-color="#cecea9"/><stop offset="0.9628" stop-color="#cecea7"/><stop offset="0.9659" stop-color="#d1d1ae"/><stop offset="0.9752" stop-color="#dfdfd5"/><stop offset="0.9845" stop-color="#e2e2de"/><stop offset="1.0000" stop-color="#e2e2de"/></linearGradient><linearGradient id="lg7" gradientUnits="userSpaceOnUse" x1="0" y1="683" x2="0" y2="1329"><stop offset="0.0000" stop-color="#a99fe5"/><stop offset="0.0464" stop-color="#aaa0e5"/><stop offset="0.0588" stop-color="#c3c0e5"/><stop offset="0.1022" stop-color="#c3c0e5"/><stop offset="0.1084" stop-color="#b3ace6"/><stop offset="0.1207" stop-color="#6c5de0"/><stop offset="0.1269" stop-color="#6051df"/><stop offset="0.1362" stop-color="#5547de"/><stop offset="0.1424" stop-color="#443ddf"/><stop offset="0.1455" stop-color="#413bdf"/><stop offset="0.1517" stop-color="#4c42de"/><stop offset="0.1610" stop-color="#5e50df"/><stop offset="0.1703" stop-color="#5c4edf"/><stop offset="0.1765" stop-color="#4c41de"/><stop offset="0.1827" stop-color="#272ce0"/><stop offset="0.1889" stop-color="#1624e2"/><stop offset="0.1920" stop-color="#1624e2"/><stop offset="0.1981" stop-color="#272be0"/><stop offset="0.2012" stop-color="#3936df"/><stop offset="0.2043" stop-color="#463ddf"/><stop offset="0.2105" stop-color="#493fdf"/><stop offset="0.2167" stop-color="#473edf"/><stop offset="0.2198" stop-color="#413bdf"/><stop offset="0.2260" stop-color="#252be0"/><stop offset="0.2322" stop-color="#1a26e2"/><stop offset="0.2384" stop-color="#252be0"/><stop offset="0.2446" stop-color="#463edf"/><stop offset="0.2477" stop-color="#4e43de"/><stop offset="0.2508" stop-color="#4e42de"/><stop offset="0.2601" stop-color="#3936df"/><stop offset="0.2663" stop-color="#483fdf"/><stop offset="0.2724" stop-color="#594bde"/><stop offset="0.2786" stop-color="#594bde"/><stop offset="0.2879" stop-color="#5044de"/><stop offset="0.2972" stop-color="#594bde"/><stop offset="0.3096" stop-color="#413bdf"/><stop offset="0.3158" stop-color="#4e42de"/><stop offset="0.3251" stop-color="#6354df"/><stop offset="0.3437" stop-color="#6d5ee0"/><stop offset="0.3560" stop-color="#6051df"/><stop offset="0.3653" stop-color="#7465e1"/><stop offset="0.3684" stop-color="#7263e1"/><stop offset="0.3746" stop-color="#6153df"/><stop offset="0.3777" stop-color="#5e50df"/><stop offset="0.3839" stop-color="#7162e0"/><stop offset="0.3870" stop-color="#7c6ce1"/><stop offset="0.3901" stop-color="#8070e2"/><stop offset="0.3994" stop-color="#7c6ce1"/><stop offset="0.4087" stop-color="#8b7ce2"/><stop offset="0.4180" stop-color="#897ae2"/><stop offset="0.4272" stop-color="#8373e2"/><stop offset="0.4396" stop-color="#8f81e3"/><stop offset="0.4458" stop-color="#8a7ae2"/><stop offset="0.4551" stop-color="#695ae0"/><stop offset="0.4582" stop-color="#6556df"/><stop offset="0.4613" stop-color="#6a5be0"/><stop offset="0.4675" stop-color="#8575e2"/><stop offset="0.4737" stop-color="#9284e3"/><stop offset="0.4861" stop-color="#8c7de3"/><stop offset="0.4985" stop-color="#9789e3"/><stop offset="0.5046" stop-color="#9182e3"/><stop offset="0.5108" stop-color="#8474e2"/><stop offset="0.5139" stop-color="#8474e2"/><stop offset="0.5232" stop-color="#9587e3"/><stop offset="0.5294" stop-color="#9082e3"/><stop offset="0.5356" stop-color="#8474e2"/><stop offset="0.5387" stop-color="#8474e2"/><stop offset="0.5480" stop-color="#9588e3"/><stop offset="0.5573" stop-color="#9284e3"/><stop offset="0.5635" stop-color="#8c7ee3"/><stop offset="0.5759" stop-color="#978ae3"/><stop offset="0.5913" stop-color="#8f81e3"/><stop offset="0.6006" stop-color="#9587e3"/><stop offset="0.6068" stop-color="#8e7fe3"/><stop offset="0.6099" stop-color="#8575e2"/><stop offset="0.6130" stop-color="#7162e0"/><stop offset="0.6161" stop-color="#5648de"/><stop offset="0.6192" stop-color="#3835df"/><stop offset="0.6223" stop-color="#2029e1"/><stop offset="0.6254" stop-color="#1624e2"/><stop offset="0.6347" stop-color="#1624e2"/><stop offset="0.6378" stop-color="#1f28e1"/><stop offset="0.6409" stop-color="#3433df"/><stop offset="0.6471" stop-color="#6859e0"/><stop offset="0.6502" stop-color="#7566e1"/><stop offset="0.6656" stop-color="#8676e2"/><stop offset="0.6687" stop-color="#8474e2"/><stop offset="0.6780" stop-color="#685ae0"/><stop offset="0.6873" stop-color="#5d4edf"/><stop offset="0.6904" stop-color="#4e43de"/><stop offset="0.6966" stop-color="#242ae0"/><stop offset="0.6997" stop-color="#1724e2"/><stop offset="0.7183" stop-color="#1624e2"/><stop offset="0.7214" stop-color="#232ae1"/><stop offset="0.7276" stop-color="#5043de"/><stop offset="0.7337" stop-color="#7364e1"/><stop offset="0.7399" stop-color="#8474e2"/><stop offset="0.7461" stop-color="#8474e2"/><stop offset="0.7554" stop-color="#7c6ce1"/><stop offset="0.7647" stop-color="#8777e2"/><stop offset="0.7740" stop-color="#8373e2"/><stop offset="0.7833" stop-color="#695ae0"/><stop offset="0.7864" stop-color="#6657df"/><stop offset="0.7926" stop-color="#7162e0"/><stop offset="0.7988" stop-color="#8171e2"/><stop offset="0.8050" stop-color="#8575e2"/><stop offset="0.8111" stop-color="#7969e1"/><stop offset="0.8204" stop-color="#5547de"/><stop offset="0.8235" stop-color="#5547de"/><stop offset="0.8328" stop-color="#6e5fe0"/><stop offset="0.8359" stop-color="#6b5ce0"/><stop offset="0.8421" stop-color="#5a4cde"/><stop offset="0.8452" stop-color="#5a4cdf"/><stop offset="0.8545" stop-color="#7c6ce1"/><stop offset="0.8576" stop-color="#8070e2"/><stop offset="0.8638" stop-color="#7566e1"/><stop offset="0.8700" stop-color="#6657e0"/><stop offset="0.8731" stop-color="#695ae0"/><stop offset="0.8824" stop-color="#8c7ee3"/><stop offset="0.9071" stop-color="#b3ace6"/><stop offset="0.9257" stop-color="#c3bfe5"/><stop offset="0.9474" stop-color="#c4c1e1"/><stop offset="0.9536" stop-color="#c9c8cf"/><stop offset="0.9598" stop-color="#ceceb0"/><stop offset="0.9628" stop-color="#cecda7"/><stop offset="0.9659" stop-color="#cfcfa9"/><stop offset="0.9752" stop-color="#ddddcf"/><stop offset="0.9814" stop-color="#e1e1dc"/><stop offset="1.0000" stop-color="#e2e2de"/></linearGradient><linearGradient id="lg8" gradientUnits="userSpaceOnUse" x1="0" y1="683" x2="0" y2="1329"><stop offset="0.0000" stop-color="#a99fe5"/><stop offset="0.0464" stop-color="#aaa0e5"/><stop offset="0.0588" stop-color="#c3c0e5"/><stop offset="0.1022" stop-color="#c3c0e5"/><stop offset="0.1084" stop-color="#b3ace6"/><stop offset="0.1207" stop-color="#6c5de0"/><stop offset="0.1269" stop-color="#6051df"/><stop offset="0.1362" stop-color="#5648de"/><stop offset="0.1455" stop-color="#413bdf"/><stop offset="0.1517" stop-color="#4c41de"/><stop offset="0.1610" stop-color="#5e4fdf"/><stop offset="0.1703" stop-color="#5c4edf"/><stop offset="0.1765" stop-color="#4c41de"/><stop offset="0.1827" stop-color="#272ce0"/><stop offset="0.1889" stop-color="#1624e2"/><stop offset="0.1920" stop-color="#1624e2"/><stop offset="0.1981" stop-color="#272be0"/><stop offset="0.2012" stop-color="#3936df"/><stop offset="0.2043" stop-color="#453ddf"/><stop offset="0.2105" stop-color="#483fdf"/><stop offset="0.2167" stop-color="#463edf"/><stop offset="0.2198" stop-color="#403adf"/><stop offset="0.2260" stop-color="#242ae0"/><stop offset="0.2322" stop-color="#1a26e2"/><stop offset="0.2384" stop-color="#262be0"/><stop offset="0.2446" stop-color="#473edf"/><stop offset="0.2477" stop-color="#4e43de"/><stop offset="0.2508" stop-color="#4d42de"/><stop offset="0.2570" stop-color="#3c38df"/><stop offset="0.2601" stop-color="#3936df"/><stop offset="0.2663" stop-color="#4940de"/><stop offset="0.2724" stop-color="#5a4cde"/><stop offset="0.2786" stop-color="#584ade"/><stop offset="0.2848" stop-color="#5044de"/><stop offset="0.2972" stop-color="#584ade"/><stop offset="0.3065" stop-color="#433cdf"/><stop offset="0.3096" stop-color="#413bdf"/><stop offset="0.3220" stop-color="#5f51df"/><stop offset="0.3437" stop-color="#6c5de0"/><stop offset="0.3529" stop-color="#5f51df"/><stop offset="0.3560" stop-color="#6052df"/><stop offset="0.3622" stop-color="#7061e0"/><stop offset="0.3653" stop-color="#7364e1"/><stop offset="0.3746" stop-color="#5f50df"/><stop offset="0.3777" stop-color="#5f50df"/><stop offset="0.3870" stop-color="#7e6ee1"/><stop offset="0.3963" stop-color="#7b6be1"/><stop offset="0.4087" stop-color="#8b7ce3"/><stop offset="0.4180" stop-color="#8878e2"/><stop offset="0.4241" stop-color="#8272e2"/><stop offset="0.4365" stop-color="#8f80e3"/><stop offset="0.4427" stop-color="#8c7de3"/><stop offset="0.4489" stop-color="#7b6be1"/><stop offset="0.4551" stop-color="#6557df"/><stop offset="0.4582" stop-color="#6657e0"/><stop offset="0.4675" stop-color="#897ae2"/><stop offset="0.4737" stop-color="#9284e3"/><stop offset="0.4861" stop-color="#8c7de3"/><stop offset="0.4954" stop-color="#9689e3"/><stop offset="0.5015" stop-color="#9385e3"/><stop offset="0.5077" stop-color="#8576e2"/><stop offset="0.5108" stop-color="#8373e2"/><stop offset="0.5201" stop-color="#9386e3"/><stop offset="0.5263" stop-color="#9284e3"/><stop offset="0.5325" stop-color="#8575e2"/><stop offset="0.5356" stop-color="#8373e2"/><stop offset="0.5480" stop-color="#9689e3"/><stop offset="0.5604" stop-color="#8d7ee3"/><stop offset="0.5759" stop-color="#978ae3"/><stop offset="0.5882" stop-color="#8f80e3"/><stop offset="0.5975" stop-color="#9385e3"/><stop offset="0.6037" stop-color="#8879e2"/><stop offset="0.6068" stop-color="#7869e1"/><stop offset="0.6130" stop-color="#413bdf"/><stop offset="0.6161" stop-color="#252ae0"/><stop offset="0.6192" stop-color="#1624e2"/><stop offset="0.6285" stop-color="#1624e2"/><stop offset="0.6316" stop-color="#1c26e1"/><stop offset="0.6347" stop-color="#2d2fe0"/><stop offset="0.6409" stop-color="#6556df"/><stop offset="0.6440" stop-color="#7768e1"/><stop offset="0.6471" stop-color="#8070e2"/><stop offset="0.6563" stop-color="#7f6fe2"/><stop offset="0.6625" stop-color="#8676e2"/><stop offset="0.6656" stop-color="#8474e2"/><stop offset="0.6749" stop-color="#695ae0"/><stop offset="0.6842" stop-color="#5c4edf"/><stop offset="0.6873" stop-color="#4e43de"/><stop offset="0.6935" stop-color="#242ae0"/><stop offset="0.6966" stop-color="#1724e2"/><stop offset="0.7152" stop-color="#1624e2"/><stop offset="0.7183" stop-color="#232ae1"/><stop offset="0.7245" stop-color="#5044de"/><stop offset="0.7307" stop-color="#7364e1"/><stop offset="0.7368" stop-color="#8474e2"/><stop offset="0.7430" stop-color="#8474e2"/><stop offset="0.7492" stop-color="#7c6ce1"/><stop offset="0.7647" stop-color="#8878e2"/><stop offset="0.7709" stop-color="#8272e2"/><stop offset="0.7802" stop-color="#6859e0"/><stop offset="0.7833" stop-color="#6657df"/><stop offset="0.7895" stop-color="#7363e1"/><stop offset="0.7957" stop-color="#8272e2"/><stop offset="0.8019" stop-color="#8474e2"/><stop offset="0.8080" stop-color="#7667e1"/><stop offset="0.8142" stop-color="#5c4ddf"/><stop offset="0.8173" stop-color="#5446de"/><stop offset="0.8204" stop-color="#5648de"/><stop offset="0.8266" stop-color="#6a5be0"/><stop offset="0.8297" stop-color="#6e5fe0"/><stop offset="0.8390" stop-color="#594bde"/><stop offset="0.8421" stop-color="#5c4edf"/><stop offset="0.8514" stop-color="#7d6ee1"/><stop offset="0.8545" stop-color="#8070e2"/><stop offset="0.8607" stop-color="#7263e1"/><stop offset="0.8669" stop-color="#6355df"/><stop offset="0.8700" stop-color="#6859e0"/><stop offset="0.8793" stop-color="#8b7ce2"/><stop offset="0.9133" stop-color="#bab5e6"/><stop offset="0.9319" stop-color="#c4c1e5"/><stop offset="0.9474" stop-color="#c4c1e3"/><stop offset="0.9536" stop-color="#c7c5d7"/><stop offset="0.9628" stop-color="#ceceab"/><stop offset="0.9659" stop-color="#cecea6"/><stop offset="0.9690" stop-color="#d0d0ac"/><stop offset="0.9783" stop-color="#deded3"/><stop offset="0.9876" stop-color="#e2e2de"/><stop offset="1.0000" stop-color="#e2e2de"/></linearGradient><linearGradient id="lg9" gradientUnits="userSpaceOnUse" x1="0" y1="683" x2="0" y2="1329"><stop offset="0.0000" stop-color="#9587e3"/><stop offset="0.0464" stop-color="#9689e3"/><stop offset="0.0495" stop-color="#9f93e4"/><stop offset="0.0557" stop-color="#bbb6e6"/><stop offset="0.0588" stop-color="#c3bfe5"/><stop offset="0.1022" stop-color="#c3c0e5"/><stop offset="0.1053" stop-color="#bcb8e5"/><stop offset="0.1084" stop-color="#b1a9e6"/><stop offset="0.1146" stop-color="#8d7ee3"/><stop offset="0.1207" stop-color="#6253df"/><stop offset="0.1269" stop-color="#5446de"/><stop offset="0.1362" stop-color="#4b41de"/><stop offset="0.1455" stop-color="#3534df"/><stop offset="0.1517" stop-color="#3f3adf"/><stop offset="0.1579" stop-color="#4f43de"/><stop offset="0.1672" stop-color="#5345de"/><stop offset="0.1734" stop-color="#4b41de"/><stop offset="0.1765" stop-color="#413bdf"/><stop offset="0.1827" stop-color="#2029e1"/><stop offset="0.1858" stop-color="#1624e2"/><stop offset="0.1950" stop-color="#1624e2"/><stop offset="0.2043" stop-color="#3936df"/><stop offset="0.2105" stop-color="#3c38df"/><stop offset="0.2167" stop-color="#3a37df"/><stop offset="0.2291" stop-color="#1624e2"/><stop offset="0.2353" stop-color="#1724e2"/><stop offset="0.2415" stop-color="#2d2fe0"/><stop offset="0.2446" stop-color="#3c38df"/><stop offset="0.2477" stop-color="#433cdf"/><stop offset="0.2508" stop-color="#403adf"/><stop offset="0.2570" stop-color="#2f30e0"/><stop offset="0.2601" stop-color="#2d2fe0"/><stop offset="0.2724" stop-color="#4f43de"/><stop offset="0.2786" stop-color="#4c41de"/><stop offset="0.2848" stop-color="#443ddf"/><stop offset="0.2941" stop-color="#4e42de"/><stop offset="0.3003" stop-color="#463edf"/><stop offset="0.3065" stop-color="#3634df"/><stop offset="0.3096" stop-color="#3634df"/><stop offset="0.3220" stop-color="#5547de"/><stop offset="0.3437" stop-color="#6052df"/><stop offset="0.3529" stop-color="#5345de"/><stop offset="0.3591" stop-color="#5f50df"/><stop offset="0.3622" stop-color="#6758e0"/><stop offset="0.3653" stop-color="#6759e0"/><stop offset="0.3746" stop-color="#5245de"/><stop offset="0.3777" stop-color="#5648de"/><stop offset="0.3839" stop-color="#6e5fe0"/><stop offset="0.3870" stop-color="#7566e1"/><stop offset="0.3963" stop-color="#7162e0"/><stop offset="0.4056" stop-color="#8474e2"/><stop offset="0.4149" stop-color="#8373e2"/><stop offset="0.4211" stop-color="#796ae1"/><stop offset="0.4272" stop-color="#7e6ee2"/><stop offset="0.4365" stop-color="#8879e2"/><stop offset="0.4427" stop-color="#8272e2"/><stop offset="0.4520" stop-color="#5e50df"/><stop offset="0.4551" stop-color="#5a4cdf"/><stop offset="0.4582" stop-color="#6052df"/><stop offset="0.4675" stop-color="#8778e2"/><stop offset="0.4737" stop-color="#8c7de3"/><stop offset="0.4830" stop-color="#8676e2"/><stop offset="0.4954" stop-color="#9183e3"/><stop offset="0.5015" stop-color="#8a7ae2"/><stop offset="0.5077" stop-color="#7b6be1"/><stop offset="0.5108" stop-color="#7d6de1"/><stop offset="0.5170" stop-color="#8d7ee3"/><stop offset="0.5232" stop-color="#8e80e3"/><stop offset="0.5325" stop-color="#7a6be1"/><stop offset="0.5387" stop-color="#8677e2"/><stop offset="0.5449" stop-color="#9183e3"/><stop offset="0.5542" stop-color="#8b7ce2"/><stop offset="0.5604" stop-color="#8778e2"/><stop offset="0.5728" stop-color="#9284e3"/><stop offset="0.5882" stop-color="#8879e2"/><stop offset="0.5944" stop-color="#8373e2"/><stop offset="0.5975" stop-color="#7566e1"/><stop offset="0.6006" stop-color="#5e4fdf"/><stop offset="0.6068" stop-color="#232ae1"/><stop offset="0.6099" stop-color="#1624e2"/><stop offset="0.6223" stop-color="#1624e2"/><stop offset="0.6254" stop-color="#2129e1"/><stop offset="0.6316" stop-color="#5749de"/><stop offset="0.6347" stop-color="#6e5fe0"/><stop offset="0.6378" stop-color="#7d6de1"/><stop offset="0.6409" stop-color="#8474e2"/><stop offset="0.6471" stop-color="#7f70e2"/><stop offset="0.6533" stop-color="#7868e1"/><stop offset="0.6594" stop-color="#7e6ee1"/><stop offset="0.6625" stop-color="#7c6ce1"/><stop offset="0.6718" stop-color="#5f51df"/><stop offset="0.6811" stop-color="#5346de"/><stop offset="0.6842" stop-color="#463edf"/><stop offset="0.6904" stop-color="#2029e1"/><stop offset="0.6935" stop-color="#1624e2"/><stop offset="0.7121" stop-color="#1624e2"/><stop offset="0.7152" stop-color="#1f28e1"/><stop offset="0.7214" stop-color="#483fdf"/><stop offset="0.7276" stop-color="#6b5ce0"/><stop offset="0.7337" stop-color="#7b6be1"/><stop offset="0.7399" stop-color="#7a6be1"/><stop offset="0.7461" stop-color="#7263e0"/><stop offset="0.7616" stop-color="#8070e2"/><stop offset="0.7678" stop-color="#7768e1"/><stop offset="0.7771" stop-color="#5d4edf"/><stop offset="0.7802" stop-color="#5b4ddf"/><stop offset="0.7926" stop-color="#796ae1"/><stop offset="0.7988" stop-color="#7a6be1"/><stop offset="0.8050" stop-color="#695be0"/><stop offset="0.8111" stop-color="#4e43de"/><stop offset="0.8142" stop-color="#493fdf"/><stop offset="0.8173" stop-color="#4d42de"/><stop offset="0.8235" stop-color="#6052df"/><stop offset="0.8266" stop-color="#6254df"/><stop offset="0.8328" stop-color="#5245de"/><stop offset="0.8359" stop-color="#4e42de"/><stop offset="0.8390" stop-color="#5346de"/><stop offset="0.8452" stop-color="#6d5ee0"/><stop offset="0.8483" stop-color="#7565e1"/><stop offset="0.8514" stop-color="#7566e1"/><stop offset="0.8607" stop-color="#5a4cdf"/><stop offset="0.8638" stop-color="#5749de"/><stop offset="0.8669" stop-color="#5d4fdf"/><stop offset="0.8762" stop-color="#8272e2"/><stop offset="0.9164" stop-color="#bcb7e5"/><stop offset="0.9319" stop-color="#c4c1e5"/><stop offset="0.9505" stop-color="#c4c1e1"/><stop offset="0.9567" stop-color="#c9c7d2"/><stop offset="0.9628" stop-color="#ceceb2"/><stop offset="0.9659" stop-color="#cecea8"/><stop offset="0.9690" stop-color="#cecea8"/><stop offset="0.9814" stop-color="#dfdfd6"/><stop offset="0.9938" stop-color="#e2e2de"/><stop offset="1.0000" stop-color="#e2e2de"/></linearGradient><linearGradient id="lgM" gradientUnits="userSpaceOnUse" x1="0" y1="683" x2="0" y2="1329"><stop offset="0.0000" stop-color="#c9cee4"/><stop offset="0.0062" stop-color="#bbc1e3"/><stop offset="0.0093" stop-color="#aab1e2"/><stop offset="0.0124" stop-color="#8e97df"/><stop offset="0.0186" stop-color="#4353da"/><stop offset="0.0217" stop-color="#2538d8"/><stop offset="0.0248" stop-color="#1a2ed7"/><stop offset="0.0279" stop-color="#273ad8"/><stop offset="0.0341" stop-color="#6672dd"/><stop offset="0.0372" stop-color="#7b85de"/><stop offset="0.0402" stop-color="#828adf"/><stop offset="0.0464" stop-color="#868edf"/><stop offset="0.0526" stop-color="#a2a8e1"/><stop offset="0.0588" stop-color="#bcc1e3"/><stop offset="0.0619" stop-color="#bbc1e1"/><stop offset="0.0650" stop-color="#a5afdc"/><stop offset="0.0712" stop-color="#536acb"/><stop offset="0.0743" stop-color="#536acb"/><stop offset="0.0805" stop-color="#a6b0dc"/><stop offset="0.0836" stop-color="#c0c6e1"/><stop offset="0.0867" stop-color="#c7cce3"/><stop offset="0.0898" stop-color="#c5cae2"/><stop offset="0.0929" stop-color="#bcc2e0"/><stop offset="0.1022" stop-color="#8894d4"/><stop offset="0.1053" stop-color="#808ed2"/><stop offset="0.1084" stop-color="#8894d4"/><stop offset="0.1176" stop-color="#bcc2e0"/><stop offset="0.1238" stop-color="#cacee3"/><stop offset="0.1269" stop-color="#cacee4"/><stop offset="0.1300" stop-color="#c4c9e3"/><stop offset="0.1331" stop-color="#afb9df"/><stop offset="0.1393" stop-color="#5a74d0"/><stop offset="0.1424" stop-color="#4e6bce"/><stop offset="0.1455" stop-color="#6e84d4"/><stop offset="0.1486" stop-color="#9daadc"/><stop offset="0.1517" stop-color="#bcc3e1"/><stop offset="0.1548" stop-color="#c8cde3"/><stop offset="0.1827" stop-color="#cbcfe4"/><stop offset="0.1981" stop-color="#c1c7e1"/><stop offset="0.2167" stop-color="#a5b0d9"/><stop offset="0.2260" stop-color="#abb5db"/><stop offset="0.2415" stop-color="#c5cae2"/><stop offset="0.2632" stop-color="#ccd0e4"/><stop offset="0.3034" stop-color="#c9cde3"/><stop offset="0.3096" stop-color="#bec5e2"/><stop offset="0.3158" stop-color="#a6b0de"/><stop offset="0.3251" stop-color="#7284d6"/><stop offset="0.3282" stop-color="#697dd4"/><stop offset="0.3313" stop-color="#697dd4"/><stop offset="0.3344" stop-color="#7284d6"/><stop offset="0.3467" stop-color="#b4bce0"/><stop offset="0.3529" stop-color="#c5cae3"/><stop offset="0.3684" stop-color="#ccd0e4"/><stop offset="0.4303" stop-color="#c9cee3"/><stop offset="0.4427" stop-color="#bbc2e0"/><stop offset="0.4551" stop-color="#a3aeda"/><stop offset="0.4644" stop-color="#a3aeda"/><stop offset="0.4830" stop-color="#c4cae2"/><stop offset="0.5046" stop-color="#ccd0e4"/><stop offset="0.6316" stop-color="#c9cee4"/><stop offset="0.6378" stop-color="#c0c4e2"/><stop offset="0.6440" stop-color="#a6addd"/><stop offset="0.6502" stop-color="#828bd7"/><stop offset="0.6533" stop-color="#757fd5"/><stop offset="0.6563" stop-color="#707ad4"/><stop offset="0.6594" stop-color="#757fd5"/><stop offset="0.6656" stop-color="#949cda"/><stop offset="0.6718" stop-color="#b5bbe0"/><stop offset="0.6780" stop-color="#c6cae3"/><stop offset="0.6935" stop-color="#ccd0e4"/><stop offset="0.8204" stop-color="#c9cde4"/><stop offset="0.8297" stop-color="#b8bfe1"/><stop offset="0.8421" stop-color="#8191da"/><stop offset="0.8452" stop-color="#7889d8"/><stop offset="0.8483" stop-color="#7486d8"/><stop offset="0.8514" stop-color="#7889d8"/><stop offset="0.8576" stop-color="#8f9ddc"/><stop offset="0.8669" stop-color="#b8bfe1"/><stop offset="0.8762" stop-color="#c9cde4"/><stop offset="0.9288" stop-color="#cbd0e4"/><stop offset="0.9350" stop-color="#c3cde4"/><stop offset="0.9381" stop-color="#b7c9e4"/><stop offset="0.9474" stop-color="#6eafe2"/><stop offset="0.9505" stop-color="#64ace2"/><stop offset="0.9536" stop-color="#6eafe2"/><stop offset="0.9628" stop-color="#b7c9e4"/><stop offset="0.9659" stop-color="#c3cde4"/><stop offset="0.9783" stop-color="#cfd3e3"/><stop offset="1.0000" stop-color="#d5d7e1"/></linearGradient></defs>
<g filter="url(#gblur)">
<rect x="62" y="683" width="922" height="646" fill="#dddcd8"/>
<polygon points="100,683 176,683 140,1329 58,1329" fill="url(#lgM)"/>
<polygon points="174,683 256,683 234,1329 142,1329" fill="url(#lg0)"/>
<polygon points="256,683 336,683 314,1329 234,1329" fill="url(#lg1)"/>
<polygon points="336,683 417,683 398,1329 314,1329" fill="url(#lg2)"/>
<polygon points="417,683 500,683 472,1329 398,1329" fill="url(#lg3)"/>
<polygon points="500,683 588,683 602,1329 472,1329" fill="url(#lg4)"/>
<polygon points="588,683 660,683 663,1329 602,1329" fill="url(#lg5)"/>
<polygon points="660,683 741,683 743,1329 663,1329" fill="url(#lg6)"/>
<polygon points="741,683 823,683 826,1329 743,1329" fill="url(#lg7)"/>
<polygon points="823,683 902,683 905,1329 826,1329" fill="url(#lg8)"/>
<polygon points="902,683 980,683 980,1329 905,1329" fill="url(#lg9)"/>
</g>
<g filter="url(#sblur)"><path d="M256 687L234 1293" stroke="#cfcaf4" stroke-width="8" stroke-opacity="0.75"/><path d="M336 687L314 1293" stroke="#cfcaf4" stroke-width="8" stroke-opacity="0.75"/><path d="M417 687L398 1293" stroke="#cfcaf4" stroke-width="8" stroke-opacity="0.75"/><path d="M500 687L472 1293" stroke="#cfcaf4" stroke-width="8" stroke-opacity="0.75"/><path d="M588 687L602 1293" stroke="#cfcaf4" stroke-width="8" stroke-opacity="0.75"/><path d="M660 687L663 1293" stroke="#cfcaf4" stroke-width="8" stroke-opacity="0.75"/><path d="M741 687L743 1293" stroke="#cfcaf4" stroke-width="8" stroke-opacity="0.75"/><path d="M823 687L826 1293" stroke="#cfcaf4" stroke-width="8" stroke-opacity="0.75"/><path d="M902 687L905 1293" stroke="#cfcaf4" stroke-width="8" stroke-opacity="0.75"/></g>
<rect x="978" y="683" width="6" height="646" fill="#dcdce6" opacity="0.8"/>
<g filter="url(#dblur)" fill="#4a2a60" opacity="0.7"><ellipse cx="607" cy="978" rx="5" ry="7"/><ellipse cx="793" cy="762" rx="2" ry="2"/></g>
<g stroke="#000" stroke-width="0.6">
<text transform="translate(460.21 631.75) scale(0.8933 1)" font-size="34.29">Time after N addition (h)</text>
<rect x="267.5" y="641.3" width="712.5" height="6.2" fill="#000"/>
<text transform="translate(7.57 671.90) scale(0.9815 1)" font-size="29.12">kDa</text>
<text transform="translate(124.50 678.00) scale(1.1199 1)" font-size="32.70">M</text>
<text transform="translate(195.94 678.00) scale(0.9752 1)" font-size="32.70">+N</text>
<text transform="translate(283.57 678.40) scale(1.1018 1)" font-size="33.23">0</text>
<text transform="translate(361.74 678.40) scale(1.1904 1)" font-size="33.23">6</text>
<text transform="translate(443.22 678.40) scale(1.1402 1)" font-size="33.23">9</text>
<text transform="translate(524.39 678.40) scale(0.9525 1)" font-size="33.23">12</text>
<text transform="translate(605.06 678.40) scale(0.9128 1)" font-size="33.72">15</text>
<text transform="translate(683.11 678.40) scale(0.9065 1)" font-size="33.23">18</text>
<text transform="translate(760.29 678.40) scale(1.0258 1)" font-size="33.23">24</text>
<text transform="translate(842.72 678.40) scale(1.0107 1)" font-size="33.23">36</text>
<text transform="translate(922.53 678.40) scale(1.0100 1)" font-size="33.23">48</text>
<text transform="translate(12.76 703.60) scale(1.0027 1)" font-size="28.07">197</text>
<rect x="62.5" y="695.2" width="12" height="2.6" fill="#000"/>
<text transform="translate(15.60 736.20) scale(0.9559 1)" font-size="27.50">113</text>
<rect x="62.5" y="726.2" width="12" height="2.6" fill="#000"/>
<text transform="translate(25.67 760.30) scale(1.1320 1)" font-size="27.07">89</text>
<rect x="62.5" y="749.7" width="12" height="2.6" fill="#000"/>
<text transform="translate(25.45 788.30) scale(1.0529 1)" font-size="29.07">60</text>
<rect x="62.5" y="775.3" width="12" height="2.6" fill="#000"/>
<text transform="translate(26.31 831.90) scale(0.9822 1)" font-size="30.67">47</text>
<rect x="62.5" y="821.1" width="12" height="2.6" fill="#000"/>
<text transform="translate(25.84 906.20) scale(1.0501 1)" font-size="28.93">36</text>
<rect x="62.5" y="894.3" width="12" height="2.6" fill="#000"/>
<text transform="translate(26.92 991.40) scale(1.0052 1)" font-size="29.22">26</text>
<rect x="62.5" y="978.1" width="12" height="2.6" fill="#000"/>
<text transform="translate(24.67 1117.00) scale(1.0543 1)" font-size="29.72">20</text>
<rect x="62.5" y="1105.0" width="12" height="2.6" fill="#000"/>
<text transform="translate(19.78 1242.50) scale(0.9317 1)" font-size="30.79">7.9</text>
<rect x="62.5" y="1230.5" width="12" height="2.6" fill="#000"/>
<text transform="translate(8.47 1055.00) scale(1.0665 1)" font-size="31.80">PCβ</text>
<text transform="translate(8.54 1155.00) scale(1.0375 1)" font-size="31.80">PCα</text>
</g>
<path d="M81.3 1045.8L147.5 1065M81.3 1140L147.5 1121.8" stroke="#000" stroke-width="2.2"/>
<defs><filter id="bblur" x="-10%" y="-60%" width="120%" height="220%"><feGaussianBlur stdDeviation="3.2 2.2"/></filter><filter id="bblur2" x="-10%" y="-60%" width="120%" height="220%"><feGaussianBlur stdDeviation="4 3"/></filter><clipPath id="clipD"><rect x="1105" y="744" width="696.5" height="121"/><rect x="1809" y="744" width="187" height="121"/><rect x="1105" y="876" width="696.5" height="101"/><rect x="1809" y="876" width="187" height="101"/><rect x="1105" y="989" width="696.5" height="83"/><rect x="1809" y="989" width="187" height="83"/><rect x="1105" y="1083" width="696.5" height="97"/><rect x="1809" y="1083" width="187" height="97"/><rect x="1104.5" y="1191" width="891.5" height="86"/></clipPath></defs>
<rect x="1105" y="744" width="696.5" height="121" fill="#d4d4d4"/>
<rect x="1809" y="744" width="187" height="121" fill="#d4d4d4"/>
<rect x="1105" y="876" width="696.5" height="101" fill="#aaaaaa"/>
<rect x="1809" y="876" width="187" height="101" fill="#aaaaaa"/>
<rect x="1105" y="989" width="696.5" height="83" fill="#cdcdcd"/>
<rect x="1809" y="989" width="187" height="83" fill="#cdcdcd"/>
<rect x="1105" y="1083" width="696.5" height="97" fill="#a2a2a2"/>
<rect x="1809" y="1083" width="187" height="97" fill="#a2a2a2"/>
<rect x="1104.5" y="1191" width="891.5" height="86" fill="#989898"/>
<g clip-path="url(#clipD)"><g filter="url(#bblur)"><rect x="1126" y="786.0" width="81" height="14" rx="18.2" ry="7.0" fill="#000" fill-opacity="0.868"/><rect x="1218" y="787.2" width="65" height="9" rx="11.7" ry="4.5" fill="#000" fill-opacity="0.821"/><rect x="1297" y="789.0" width="74" height="10" rx="13.0" ry="5.0" fill="#000" fill-opacity="0.849"/><rect x="1383" y="790.0" width="73" height="10" rx="13.0" ry="5.0" fill="#000" fill-opacity="0.849"/><rect x="1467" y="791.0" width="68" height="10" rx="13.0" ry="5.0" fill="#000" fill-opacity="0.849"/><rect x="1548" y="790.8" width="72" height="11" rx="14.3" ry="5.5" fill="#000" fill-opacity="0.849"/><rect x="1630" y="793.1" width="76" height="11" rx="14.3" ry="5.5" fill="#000" fill-opacity="0.858"/><rect x="1717" y="794.5" width="81" height="13" rx="16.9" ry="6.5" fill="#000" fill-opacity="0.915"/><rect x="1812" y="792.3" width="82" height="14" rx="18.2" ry="7.0" fill="#000" fill-opacity="0.953"/><rect x="1904" y="788.7" width="86" height="13" rx="16.9" ry="6.5" fill="#000" fill-opacity="0.915"/><rect x="1129" y="836.0" width="75" height="8" rx="10.4" ry="4.0" fill="#000" fill-opacity="0.292"/><rect x="1221" y="837.5" width="59" height="7" rx="9.1" ry="3.5" fill="#000" fill-opacity="0.057"/><rect x="1300" y="837.5" width="68" height="7" rx="9.1" ry="3.5" fill="#000" fill-opacity="0.075"/><rect x="1386" y="837.5" width="67" height="7" rx="9.1" ry="3.5" fill="#000" fill-opacity="0.075"/><rect x="1470" y="838.5" width="62" height="7" rx="9.1" ry="3.5" fill="#000" fill-opacity="0.066"/><rect x="1551" y="839.5" width="66" height="7" rx="9.1" ry="3.5" fill="#000" fill-opacity="0.066"/><rect x="1633" y="840.5" width="70" height="7" rx="9.1" ry="3.5" fill="#000" fill-opacity="0.094"/><rect x="1720" y="843.5" width="75" height="7" rx="9.1" ry="3.5" fill="#000" fill-opacity="0.222"/><rect x="1815" y="842.5" width="76" height="7" rx="9.1" ry="3.5" fill="#000" fill-opacity="0.208"/><rect x="1907" y="840.6" width="80" height="8" rx="10.4" ry="4.0" fill="#000" fill-opacity="0.316"/><rect x="1135" y="849.0" width="63" height="14" rx="15.8" ry="7.0" fill="#000" fill-opacity="0.094"/><rect x="1911" y="849.0" width="72" height="14" rx="18.0" ry="7.0" fill="#000" fill-opacity="0.080"/><rect x="1126" y="904.0" width="81" height="40" rx="8.0" ry="8.0" fill="#000" fill-opacity="0.482"/><rect x="1128" y="905.0" width="77" height="12" rx="15.6" ry="6.0" fill="#000" fill-opacity="0.541"/><rect x="1128" y="934.0" width="77" height="14" rx="18.2" ry="7.0" fill="#000" fill-opacity="0.853"/><rect x="1220" y="905.0" width="61" height="12" rx="15.2" ry="6.0" fill="#000" fill-opacity="0.118"/><rect x="1220" y="934.0" width="61" height="14" rx="15.2" ry="7.0" fill="#000" fill-opacity="0.247"/><rect x="1299" y="905.0" width="70" height="12" rx="15.6" ry="6.0" fill="#000" fill-opacity="0.176"/><rect x="1299" y="934.0" width="70" height="14" rx="17.5" ry="7.0" fill="#000" fill-opacity="0.341"/><rect x="1385" y="905.0" width="69" height="12" rx="15.6" ry="6.0" fill="#000" fill-opacity="0.147"/><rect x="1385" y="934.0" width="69" height="14" rx="17.2" ry="7.0" fill="#000" fill-opacity="0.306"/><rect x="1469" y="905.0" width="64" height="12" rx="15.6" ry="6.0" fill="#000" fill-opacity="0.206"/><rect x="1469" y="934.0" width="64" height="14" rx="16.0" ry="7.0" fill="#000" fill-opacity="0.365"/><rect x="1550" y="905.0" width="68" height="12" rx="15.6" ry="6.0" fill="#000" fill-opacity="0.235"/><rect x="1550" y="934.0" width="68" height="14" rx="17.0" ry="7.0" fill="#000" fill-opacity="0.424"/><rect x="1632" y="905.0" width="72" height="12" rx="15.6" ry="6.0" fill="#000" fill-opacity="0.412"/><rect x="1632" y="934.0" width="72" height="14" rx="18.0" ry="7.0" fill="#000" fill-opacity="0.600"/><rect x="1635" y="917.0" width="66" height="18" rx="6.0" ry="6.0" fill="#000" fill-opacity="0.235"/><rect x="1719" y="905.0" width="77" height="12" rx="15.6" ry="6.0" fill="#000" fill-opacity="0.500"/><rect x="1719" y="934.0" width="77" height="14" rx="18.2" ry="7.0" fill="#000" fill-opacity="0.659"/><rect x="1722" y="917.0" width="71" height="18" rx="6.0" ry="6.0" fill="#000" fill-opacity="0.235"/><rect x="1814" y="905.0" width="78" height="12" rx="15.6" ry="6.0" fill="#000" fill-opacity="0.529"/><rect x="1814" y="934.0" width="78" height="14" rx="18.2" ry="7.0" fill="#000" fill-opacity="0.718"/><rect x="1817" y="917.0" width="72" height="18" rx="6.0" ry="6.0" fill="#000" fill-opacity="0.235"/><rect x="1906" y="905.0" width="82" height="12" rx="15.6" ry="6.0" fill="#000" fill-opacity="0.500"/><rect x="1906" y="934.0" width="82" height="14" rx="18.2" ry="7.0" fill="#000" fill-opacity="0.718"/><rect x="1909" y="917.0" width="76" height="18" rx="6.0" ry="6.0" fill="#000" fill-opacity="0.235"/><ellipse cx="1745" cy="962" rx="10" ry="8" fill="#000" fill-opacity="0.25"/><rect x="1127" y="1019.0" width="79" height="12" rx="15.6" ry="6.0" fill="#000" fill-opacity="0.795"/><rect x="1219" y="1020.0" width="63" height="8" rx="10.4" ry="4.0" fill="#000" fill-opacity="0.210"/><rect x="1298" y="1019.5" width="72" height="9" rx="11.7" ry="4.5" fill="#000" fill-opacity="0.307"/><rect x="1384" y="1019.5" width="71" height="9" rx="11.7" ry="4.5" fill="#000" fill-opacity="0.307"/><rect x="1468" y="1018.5" width="66" height="9" rx="11.7" ry="4.5" fill="#000" fill-opacity="0.454"/><rect x="1549" y="1018.0" width="70" height="10" rx="13.0" ry="5.0" fill="#000" fill-opacity="0.649"/><rect x="1631" y="1019.0" width="74" height="10" rx="13.0" ry="5.0" fill="#000" fill-opacity="0.732"/><rect x="1718" y="1020.5" width="79" height="12" rx="15.6" ry="6.0" fill="#000" fill-opacity="0.805"/><rect x="1813" y="1020.0" width="80" height="13" rx="16.9" ry="6.5" fill="#000" fill-opacity="0.912"/><rect x="1905" y="1016.5" width="84" height="13" rx="16.9" ry="6.5" fill="#000" fill-opacity="0.927"/><rect x="1131" y="1041.0" width="71" height="12" rx="15.6" ry="6.0" fill="#000" fill-opacity="0.132"/><rect x="1553" y="1041.0" width="62" height="12" rx="15.5" ry="6.0" fill="#000" fill-opacity="0.112"/><rect x="1635" y="1041.0" width="66" height="12" rx="15.6" ry="6.0" fill="#000" fill-opacity="0.141"/><rect x="1722" y="1041.0" width="71" height="12" rx="15.6" ry="6.0" fill="#000" fill-opacity="0.180"/><rect x="1817" y="1041.0" width="72" height="12" rx="15.6" ry="6.0" fill="#000" fill-opacity="0.317"/><rect x="1909" y="1041.0" width="76" height="12" rx="15.6" ry="6.0" fill="#000" fill-opacity="0.132"/><rect x="1128" y="1097.0" width="77" height="40" rx="12.0" ry="10.0" fill="#000" fill-opacity="0.228"/><rect x="1220" y="1112.0" width="61" height="10" rx="13.0" ry="5.0" fill="#000" fill-opacity="0.099"/><rect x="1299" y="1114.0" width="70" height="10" rx="13.0" ry="5.0" fill="#000" fill-opacity="0.099"/><rect x="1385" y="1114.0" width="69" height="12" rx="15.6" ry="6.0" fill="#000" fill-opacity="0.136"/><rect x="1469" y="1113.0" width="64" height="12" rx="15.6" ry="6.0" fill="#000" fill-opacity="0.198"/><rect x="1550" y="1114.7" width="68" height="12" rx="15.6" ry="6.0" fill="#000" fill-opacity="0.167"/><rect x="1632" y="1119.0" width="72" height="12" rx="15.6" ry="6.0" fill="#000" fill-opacity="0.259"/><rect x="1719" y="1124.0" width="77" height="10" rx="13.0" ry="5.0" fill="#000" fill-opacity="0.167"/><rect x="1814" y="1127.0" width="78" height="10" rx="13.0" ry="5.0" fill="#000" fill-opacity="0.222"/><rect x="1906" y="1122.0" width="82" height="36" rx="12.0" ry="10.0" fill="#000" fill-opacity="0.556"/><rect x="1129" y="1133.0" width="75" height="44" rx="6.0" ry="6.0" fill="#000" fill-opacity="0.086"/><rect x="1123" y="1229.5" width="87" height="9" rx="11.7" ry="4.5" fill="#000" fill-opacity="0.566"/><rect x="1125" y="1244.0" width="83" height="32" rx="3.0" ry="3.0" fill="#000" fill-opacity="0.263"/><rect x="1215" y="1230.5" width="71" height="9" rx="11.7" ry="4.5" fill="#000" fill-opacity="0.566"/><rect x="1217" y="1244.0" width="67" height="32" rx="3.0" ry="3.0" fill="#000" fill-opacity="0.263"/><rect x="1294" y="1230.5" width="80" height="9" rx="11.7" ry="4.5" fill="#000" fill-opacity="0.566"/><rect x="1296" y="1244.0" width="76" height="32" rx="3.0" ry="3.0" fill="#000" fill-opacity="0.263"/><rect x="1380" y="1230.5" width="79" height="9" rx="11.7" ry="4.5" fill="#000" fill-opacity="0.566"/><rect x="1382" y="1244.0" width="75" height="32" rx="3.0" ry="3.0" fill="#000" fill-opacity="0.263"/><rect x="1464" y="1228.5" width="74" height="9" rx="11.7" ry="4.5" fill="#000" fill-opacity="0.566"/><rect x="1466" y="1244.0" width="70" height="32" rx="3.0" ry="3.0" fill="#000" fill-opacity="0.263"/><rect x="1545" y="1227.5" width="78" height="9" rx="11.7" ry="4.5" fill="#000" fill-opacity="0.566"/><rect x="1547" y="1244.0" width="74" height="32" rx="3.0" ry="3.0" fill="#000" fill-opacity="0.263"/><rect x="1627" y="1224.5" width="82" height="9" rx="11.7" ry="4.5" fill="#000" fill-opacity="0.566"/><rect x="1629" y="1244.0" width="78" height="32" rx="3.0" ry="3.0" fill="#000" fill-opacity="0.263"/><rect x="1714" y="1217.5" width="87" height="9" rx="11.7" ry="4.5" fill="#000" fill-opacity="0.566"/><rect x="1716" y="1244.0" width="83" height="32" rx="3.0" ry="3.0" fill="#000" fill-opacity="0.263"/><rect x="1809" y="1211.5" width="88" height="9" rx="11.7" ry="4.5" fill="#000" fill-opacity="0.566"/><rect x="1811" y="1244.0" width="84" height="32" rx="3.0" ry="3.0" fill="#000" fill-opacity="0.263"/><rect x="1901" y="1204.5" width="92" height="9" rx="11.7" ry="4.5" fill="#000" fill-opacity="0.566"/><rect x="1903" y="1244.0" width="88" height="32" rx="3.0" ry="3.0" fill="#000" fill-opacity="0.263"/></g></g>
<text transform="translate(1437.30 688.80) scale(0.8729 1)" font-size="35.47">Time after N addition (h)</text>
<rect x="1217" y="699" width="775" height="6.5" fill="#000"/>
<text transform="translate(1152.09 738.10) scale(0.9400 1)" font-size="36.19">+N</text>
<text transform="translate(1246.17 738.10) scale(0.9649 1)" font-size="35.23">0</text>
<text transform="translate(1327.52 738.10) scale(1.1072 1)" font-size="35.23">6</text>
<text transform="translate(1412.10 738.10) scale(0.9985 1)" font-size="35.23">9</text>
<text transform="translate(1487.91 738.10) scale(0.8551 1)" font-size="35.23">12</text>
<text transform="translate(1568.99 738.10) scale(0.8102 1)" font-size="35.76">15</text>
<text transform="translate(1655.25 738.10) scale(0.8750 1)" font-size="35.23">18</text>
<text transform="translate(1740.49 738.10) scale(0.9647 1)" font-size="35.23">24</text>
<text transform="translate(1837.50 738.10) scale(0.9298 1)" font-size="35.23">36</text>
<text transform="translate(1928.73 738.10) scale(0.9498 1)" font-size="35.23">48</text>
<text transform="translate(1015.16 816.60) scale(0.9464 1)" font-size="35.33">RbcL</text>
<text transform="translate(1012.66 938.70) scale(0.9282 1)" font-size="36.02">PsbA</text>
<text transform="translate(1012.00 1043.50) scale(0.9473 1)" font-size="34.78">PsbC</text>
<text transform="translate(1012.86 1143.80) scale(0.8997 1)" font-size="37.06">PsaA</text>
<text transform="translate(1015.91 1246.80) scale(0.8840 1)" font-size="37.06">PsaB</text>
<path d="M199.7 17.50V468.50" stroke="#000" stroke-width="3" fill="none"/>
<path d="M188.70 468.50H959.00" stroke="#000" stroke-width="3" fill="none"/>
<path d="M188.70 468.50H199.7" stroke="#000" stroke-width="3"/>
<text x="169.5" y="479.20" text-anchor="end" font-size="35">0</text>
<path d="M188.70 378.60H199.7" stroke="#000" stroke-width="3"/>
<text x="169.5" y="389.30" text-anchor="end" font-size="35">10</text>
<path d="M188.70 288.70H199.7" stroke="#000" stroke-width="3"/>
<text x="169.5" y="299.40" text-anchor="end" font-size="35">20</text>
<path d="M188.70 198.80H199.7" stroke="#000" stroke-width="3"/>
<text x="169.5" y="209.50" text-anchor="end" font-size="35">30</text>
<path d="M188.70 108.90H199.7" stroke="#000" stroke-width="3"/>
<text x="169.5" y="119.60" text-anchor="end" font-size="35">40</text>
<path d="M188.70 19.00H199.7" stroke="#000" stroke-width="3"/>
<text x="169.5" y="29.70" text-anchor="end" font-size="35">50</text>
<path d="M200.00 468.50V478.50" stroke="#000" stroke-width="3"/>
<text x="200.00" y="521.5" text-anchor="middle" font-size="35">0</text>
<path d="M305.30 468.50V478.50" stroke="#000" stroke-width="3"/>
<text x="305.30" y="521.5" text-anchor="middle" font-size="35">1</text>
<path d="M410.60 468.50V478.50" stroke="#000" stroke-width="3"/>
<text x="410.60" y="521.5" text-anchor="middle" font-size="35">2</text>
<path d="M515.90 468.50V478.50" stroke="#000" stroke-width="3"/>
<text x="515.90" y="521.5" text-anchor="middle" font-size="35">3</text>
<path d="M621.20 468.50V478.50" stroke="#000" stroke-width="3"/>
<text x="621.20" y="521.5" text-anchor="middle" font-size="35">4</text>
<path d="M726.50 468.50V478.50" stroke="#000" stroke-width="3"/>
<text x="726.50" y="521.5" text-anchor="middle" font-size="35">5</text>
<path d="M831.80 468.50V478.50" stroke="#000" stroke-width="3"/>
<text x="831.80" y="521.5" text-anchor="middle" font-size="35">6</text>
<path d="M937.10 468.50V478.50" stroke="#000" stroke-width="3"/>
<text x="937.10" y="521.5" text-anchor="middle" font-size="35">7</text>
<text x="580" y="564" text-anchor="middle" font-size="34" textLength="363" lengthAdjust="spacingAndGlyphs">Time of N starvation (d)</text>
<text transform="translate(57 241.3) rotate(-90)" text-anchor="middle" font-size="34" textLength="317" lengthAdjust="spacingAndGlyphs">Total protein content</text>
<text transform="translate(105.5 241.3) rotate(-90)" text-anchor="middle" font-size="34">（µg ml<tspan font-size="23" dy="-10.5">-1</tspan><tspan dy="10.5"> OD</tspan><tspan font-size="23" dy="8.4">730</tspan><tspan font-size="23" dy="-18.9">-1</tspan><tspan dy="10.5">）</tspan></text>
<path d="M200.00 57.20 L305.30 190.00 L410.60 257.00 L515.90 290.30 L726.50 306.00 L937.10 310.20" stroke="#595959" stroke-width="3" fill="none" stroke-linejoin="round"/>
<path d="M200.00 54.00V60.00M199.70 54.00H210.00M199.70 60.00H210.00" stroke="#000" stroke-width="3" fill="none"/>
<path d="M305.30 137.70V242.80M295.30 137.70H315.30M295.30 242.80H315.30" stroke="#000" stroke-width="3" fill="none"/>
<path d="M410.60 223.75V290.00M400.60 223.75H420.60M400.60 290.00H420.60" stroke="#000" stroke-width="3" fill="none"/>
<path d="M515.90 275.70V305.30M505.90 275.70H525.90M505.90 305.30H525.90" stroke="#000" stroke-width="3" fill="none"/>
<path d="M726.50 274.40V337.50M716.50 274.40H736.50M716.50 337.50H736.50" stroke="#000" stroke-width="3" fill="none"/>
<path d="M937.10 274.40V346.20M927.10 274.40H947.10M927.10 346.20H947.10" stroke="#000" stroke-width="3" fill="none"/>
<path d="M200.00 44.40L212.80 57.20L200.00 70.00L187.20 57.20Z" stroke="#595959" stroke-width="2.7" fill="none"/>
<path d="M305.30 177.20L318.10 190.00L305.30 202.80L292.50 190.00Z" stroke="#595959" stroke-width="2.7" fill="none"/>
<path d="M410.60 244.20L423.40 257.00L410.60 269.80L397.80 257.00Z" stroke="#595959" stroke-width="2.7" fill="none"/>
<path d="M515.90 277.50L528.70 290.30L515.90 303.10L503.10 290.30Z" stroke="#595959" stroke-width="2.7" fill="none"/>
<path d="M726.50 293.20L739.30 306.00L726.50 318.80L713.70 306.00Z" stroke="#595959" stroke-width="2.7" fill="none"/>
<path d="M937.10 297.40L949.90 310.20L937.10 323.00L924.30 310.20Z" stroke="#595959" stroke-width="2.7" fill="none"/>
<path d="M1225.75 17.00V468.50" stroke="#000" stroke-width="3" fill="none"/>
<path d="M1214.75 468.50H1989.00" stroke="#000" stroke-width="3" fill="none"/>
<path d="M1214.75 468.50H1225.75" stroke="#000" stroke-width="3"/>
<text x="1195" y="479.20" text-anchor="end" font-size="35">0</text>
<path d="M1214.75 418.50H1225.75" stroke="#000" stroke-width="3"/>
<text x="1195" y="429.20" text-anchor="end" font-size="35">10</text>
<path d="M1214.75 368.50H1225.75" stroke="#000" stroke-width="3"/>
<text x="1195" y="379.20" text-anchor="end" font-size="35">20</text>
<path d="M1214.75 318.50H1225.75" stroke="#000" stroke-width="3"/>
<text x="1195" y="329.20" text-anchor="end" font-size="35">30</text>
<path d="M1214.75 268.50H1225.75" stroke="#000" stroke-width="3"/>
<text x="1195" y="279.20" text-anchor="end" font-size="35">40</text>
<path d="M1214.75 218.50H1225.75" stroke="#000" stroke-width="3"/>
<text x="1195" y="229.20" text-anchor="end" font-size="35">50</text>
<path d="M1214.75 168.50H1225.75" stroke="#000" stroke-width="3"/>
<text x="1195" y="179.20" text-anchor="end" font-size="35">60</text>
<path d="M1214.75 118.50H1225.75" stroke="#000" stroke-width="3"/>
<text x="1195" y="129.20" text-anchor="end" font-size="35">70</text>
<path d="M1214.75 68.50H1225.75" stroke="#000" stroke-width="3"/>
<text x="1195" y="79.20" text-anchor="end" font-size="35">80</text>
<path d="M1214.75 18.50H1225.75" stroke="#000" stroke-width="3"/>
<text x="1195" y="29.20" text-anchor="end" font-size="35">90</text>
<path d="M1225.75 468.50V478.50" stroke="#000" stroke-width="3"/>
<text x="1225.75" y="521.5" text-anchor="middle" font-size="35">0</text>
<path d="M1351.19 468.50V478.50" stroke="#000" stroke-width="3"/>
<text x="1351.19" y="521.5" text-anchor="middle" font-size="35">12</text>
<path d="M1476.62 468.50V478.50" stroke="#000" stroke-width="3"/>
<text x="1476.62" y="521.5" text-anchor="middle" font-size="35">24</text>
<path d="M1602.06 468.50V478.50" stroke="#000" stroke-width="3"/>
<text x="1602.06" y="521.5" text-anchor="middle" font-size="35">36</text>
<path d="M1727.49 468.50V478.50" stroke="#000" stroke-width="3"/>
<text x="1727.49" y="521.5" text-anchor="middle" font-size="35">48</text>
<path d="M1852.93 468.50V478.50" stroke="#000" stroke-width="3"/>
<text x="1852.93" y="521.5" text-anchor="middle" font-size="35">60</text>
<path d="M1978.37 468.50V478.50" stroke="#000" stroke-width="3"/>
<text x="1978.37" y="521.5" text-anchor="middle" font-size="35">72</text>
<text x="1607.4" y="564" text-anchor="middle" font-size="34" textLength="376" lengthAdjust="spacingAndGlyphs">Time after N addition (h)</text>
<text transform="translate(1082 241.3) rotate(-90)" text-anchor="middle" font-size="34" textLength="317" lengthAdjust="spacingAndGlyphs">Total protein content</text>
<text transform="translate(1134.5 241.3) rotate(-90)" text-anchor="middle" font-size="34">（µg ml<tspan font-size="23" dy="-10.5">-1</tspan><tspan dy="10.5"> OD</tspan><tspan font-size="23" dy="8.4">730</tspan><tspan font-size="23" dy="-18.9">-1</tspan><tspan dy="10.5">）</tspan></text>
<path d="M1225.75 348.25 L1288.47 304.50 L1319.83 310.00 L1351.19 305.00 L1382.55 267.50 L1413.90 242.00 L1476.62 157.50 L1602.06 164.70 L1727.49 189.90 L1978.37 122.70" stroke="#595959" stroke-width="3" fill="none" stroke-linejoin="round"/>
<path d="M1225.75 346.00V350.50M1225.75 346.00H1235.75M1225.75 350.50H1235.75" stroke="#000" stroke-width="3" fill="none"/>
<path d="M1288.47 287.50V320.75M1278.47 287.50H1298.47M1278.47 320.75H1298.47" stroke="#000" stroke-width="3" fill="none"/>
<path d="M1319.83 282.50V337.50M1309.83 282.50H1329.83M1309.83 337.50H1329.83" stroke="#000" stroke-width="3" fill="none"/>
<path d="M1351.19 301.25V308.75M1341.19 301.25H1361.19M1341.19 308.75H1361.19" stroke="#000" stroke-width="3" fill="none"/>
<path d="M1382.55 255.00V279.50M1372.55 255.00H1392.55M1372.55 279.50H1392.55" stroke="#000" stroke-width="3" fill="none"/>
<path d="M1413.90 211.25V273.00M1403.90 211.25H1423.90M1403.90 273.00H1423.90" stroke="#000" stroke-width="3" fill="none"/>
<path d="M1476.62 124.25V189.25M1466.62 124.25H1486.62M1466.62 189.25H1486.62" stroke="#000" stroke-width="3" fill="none"/>
<path d="M1602.06 134.70V194.70M1592.06 134.70H1612.06M1592.06 194.70H1612.06" stroke="#000" stroke-width="3" fill="none"/>
<path d="M1727.49 169.90V209.90M1717.49 169.90H1737.49M1717.49 209.90H1737.49" stroke="#000" stroke-width="3" fill="none"/>
<path d="M1978.37 74.00V170.70M1968.37 74.00H1988.37M1968.37 170.70H1988.37" stroke="#000" stroke-width="3" fill="none"/>
<path d="M1225.75 335.45L1238.55 348.25L1225.75 361.05L1212.95 348.25Z" stroke="#595959" stroke-width="2.7" fill="none"/>
<path d="M1288.47 291.70L1301.27 304.50L1288.47 317.30L1275.67 304.50Z" stroke="#595959" stroke-width="2.7" fill="none"/>
<path d="M1319.83 297.20L1332.63 310.00L1319.83 322.80L1307.03 310.00Z" stroke="#595959" stroke-width="2.7" fill="none"/>
<path d="M1351.19 292.20L1363.99 305.00L1351.19 317.80L1338.39 305.00Z" stroke="#595959" stroke-width="2.7" fill="none"/>
<path d="M1382.55 254.70L1395.35 267.50L1382.55 280.30L1369.75 267.50Z" stroke="#595959" stroke-width="2.7" fill="none"/>
<path d="M1413.90 229.20L1426.70 242.00L1413.90 254.80L1401.10 242.00Z" stroke="#595959" stroke-width="2.7" fill="none"/>
<path d="M1476.62 144.70L1489.42 157.50L1476.62 170.30L1463.82 157.50Z" stroke="#595959" stroke-width="2.7" fill="none"/>
<path d="M1602.06 151.90L1614.86 164.70L1602.06 177.50L1589.26 164.70Z" stroke="#595959" stroke-width="2.7" fill="none"/>
<path d="M1727.49 177.10L1740.29 189.90L1727.49 202.70L1714.69 189.90Z" stroke="#595959" stroke-width="2.7" fill="none"/>
<path d="M1978.37 109.90L1991.17 122.70L1978.37 135.50L1965.57 122.70Z" stroke="#595959" stroke-width="2.7" fill="none"/>

<text x="8.5" y="30.8" font-size="33.5" font-weight="bold">A</text>
<text x="1020" y="30.8" font-size="32" font-weight="bold">B</text>
<text x="9" y="593.7" font-size="32" font-weight="bold">C</text>
<text x="1020" y="593.7" font-size="32" font-weight="bold">D</text>

</svg>
</body></html>
